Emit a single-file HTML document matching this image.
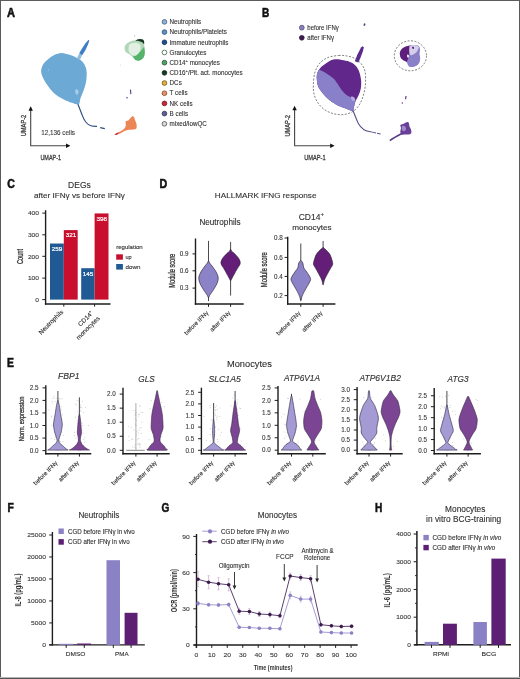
<!DOCTYPE html>
<html><head><meta charset="utf-8"><style>
html,body{margin:0;padding:0;background:#fff;}
#fig{position:relative;width:520px;height:679px;overflow:hidden;background:#fff;}
svg{position:absolute;left:0;top:0;font-family:"Liberation Sans",sans-serif;will-change:transform;filter:blur(0.25px);}
</style></head><body><div id="fig">
<svg width="520" height="679" viewBox="0 0 520 679">
<text transform="translate(7.00 16.80) scale(0.9008 1)" font-size="12.3" font-weight="bold" fill="#111" stroke="#111" stroke-width="0.55">A</text>
<text transform="translate(261.90 17.00) scale(0.8220 1)" font-size="12.3" font-weight="bold" fill="#111" stroke="#111" stroke-width="0.55">B</text>
<text transform="translate(7.15 187.60) scale(0.8558 1)" font-size="12.3" font-weight="bold" fill="#111" stroke="#111" stroke-width="0.55">C</text>
<text transform="translate(159.60 187.50) scale(0.8671 1)" font-size="12.3" font-weight="bold" fill="#111" stroke="#111" stroke-width="0.55">D</text>
<text transform="translate(7.00 366.60) scale(0.8410 1)" font-size="12.3" font-weight="bold" fill="#111" stroke="#111" stroke-width="0.55">E</text>
<text transform="translate(7.60 511.50) scale(0.8383 1)" font-size="12.3" font-weight="bold" fill="#111" stroke="#111" stroke-width="0.55">F</text>
<text transform="translate(161.50 512.00) scale(0.8151 1)" font-size="12.3" font-weight="bold" fill="#111" stroke="#111" stroke-width="0.55">G</text>
<text transform="translate(374.90 512.40) scale(0.8220 1)" font-size="12.3" font-weight="bold" fill="#111" stroke="#111" stroke-width="0.55">H</text>
<path d="M61.50,52.90 C64.07,52.87 67.10,53.98 69.60,54.80 C72.10,55.62 74.35,56.63 76.50,57.80 C78.65,58.97 80.92,60.05 82.50,61.80 C84.08,63.55 85.30,66.03 86.00,68.30 C86.70,70.57 86.75,72.88 86.70,75.40 C86.65,77.92 86.28,80.72 85.70,83.40 C85.12,86.08 84.08,89.00 83.20,91.50 C82.32,94.00 81.17,96.25 80.40,98.40 C79.63,100.55 80.02,103.67 78.60,104.40 C77.18,105.13 74.37,103.63 71.90,102.80 C69.43,101.97 66.28,100.60 63.80,99.40 C61.32,98.20 59.20,97.27 57.00,95.60 C54.80,93.93 52.70,91.92 50.60,89.40 C48.50,86.88 45.97,83.35 44.40,80.50 C42.83,77.65 41.47,74.88 41.20,72.30 C40.93,69.72 41.70,67.15 42.80,65.00 C43.90,62.85 45.90,61.07 47.80,59.40 C49.70,57.73 51.92,56.08 54.20,55.00 C56.48,53.92 58.93,52.93 61.50,52.90Z" fill="#6ca9d4"/>
<path d="M75,90 C77,88 79,90 78.5,93 C77.5,96 75,95 75,90Z" fill="#a8cce6"/>
<circle cx="48.5" cy="70" r="0.6" fill="#b0d0ea"/>
<path d="M79.2,53.2 L82,48.5 L85.5,43.2 L88.6,39.8 L89.3,40.7 L88,44.5 L85.5,50 L82,55.5 Z" fill="#3d7fc2"/>
<path d="M76.8,58.4 L79.4,53.2 L82,55.2 L79.8,60.2 Z" fill="#8dbde0"/>
<path d="M77.9,104.2 C79.5,108 81,112 82.3,115.4 C83.6,119 85.5,122.5 88.5,124.6 C90.5,126 93,126.6 97,126.4" fill="none" stroke="#2b4f7e" stroke-width="1.15"/>
<path d="M100.2,127.6 L104.8,128.6" fill="none" stroke="#2b4f7e" stroke-width="1.1"/>
<path d="M136.70,39.90 C137.57,39.62 137.93,38.75 139.00,38.80 C140.07,38.85 142.28,39.58 143.10,40.20 C143.92,40.82 143.70,41.30 143.90,42.50 C144.10,43.70 144.15,45.72 144.30,47.40 C144.45,49.08 144.90,50.97 144.80,52.60 C144.70,54.23 144.47,55.92 143.70,57.20 C142.93,58.48 141.45,59.78 140.20,60.30 C138.95,60.82 137.35,60.78 136.20,60.30 C135.05,59.82 134.37,58.37 133.30,57.40 C132.23,56.43 131.05,55.40 129.80,54.50 C128.55,53.60 126.67,53.18 125.80,52.00 C124.93,50.82 124.52,48.73 124.60,47.40 C124.68,46.07 125.43,44.95 126.30,44.00 C127.17,43.05 128.55,42.28 129.80,41.70 C131.05,41.12 132.65,40.80 133.80,40.50 C134.95,40.20 135.83,40.18 136.70,39.90Z" fill="#b2d6ba"/>
<clipPath id="cg"><path d="M136.70,39.90 C137.57,39.62 137.93,38.75 139.00,38.80 C140.07,38.85 142.28,39.58 143.10,40.20 C143.92,40.82 143.70,41.30 143.90,42.50 C144.10,43.70 144.15,45.72 144.30,47.40 C144.45,49.08 144.90,50.97 144.80,52.60 C144.70,54.23 144.47,55.92 143.70,57.20 C142.93,58.48 141.45,59.78 140.20,60.30 C138.95,60.82 137.35,60.78 136.20,60.30 C135.05,59.82 134.37,58.37 133.30,57.40 C132.23,56.43 131.05,55.40 129.80,54.50 C128.55,53.60 126.67,53.18 125.80,52.00 C124.93,50.82 124.52,48.73 124.60,47.40 C124.68,46.07 125.43,44.95 126.30,44.00 C127.17,43.05 128.55,42.28 129.80,41.70 C131.05,41.12 132.65,40.80 133.80,40.50 C134.95,40.20 135.83,40.18 136.70,39.90Z"/></clipPath>
<g clip-path="url(#cg)">
<path d="M146,44 C142,50 139,54 134,56 C132,57.5 132,60 134,62 L147,62 Z" fill="#55b46c"/>
<path d="M129,45 C132,42.5 137,42 140,44.5 C141.5,48 140,53 136,55.5 C132,56.5 128.5,53 128.5,49 Z" fill="#e2f0e4"/>
</g>
<path d="M135.5,40.6 C137,39 140.5,38.2 143,39.6 C144.2,40.6 144.4,42.4 144.1,44.6 C143.2,42.6 141.5,41.6 139.6,41.2 C138,41 136.6,41.2 135.5,40.6Z" fill="#15351f"/>
<circle cx="134.6" cy="35.8" r="0.6" fill="#9ab0a4"/>
<path d="M130.4,89.6 L130.9,94.1" stroke="#4a4a86" stroke-width="1.1"/>
<circle cx="127" cy="97.7" r="0.8" fill="#4a4a86"/>
<path d="M132.40,116.20 C132.98,116.03 133.57,116.37 134.00,117.00 C134.43,117.63 134.58,118.83 135.00,120.00 C135.42,121.17 136.28,122.58 136.50,124.00 C136.72,125.42 136.88,127.58 136.30,128.50 C135.72,129.42 134.22,129.28 133.00,129.50 C131.78,129.72 130.17,129.62 129.00,129.80 C127.83,129.98 127.17,130.17 126.00,130.60 C124.83,131.03 123.25,131.82 122.00,132.40 C120.75,132.98 119.57,133.65 118.50,134.10 C117.43,134.55 116.12,135.07 115.60,135.10 C115.08,135.13 115.00,134.72 115.40,134.30 C115.80,133.88 116.98,133.18 118.00,132.60 C119.02,132.02 120.45,131.47 121.50,130.80 C122.55,130.13 123.58,129.48 124.30,128.60 C125.02,127.72 125.57,126.73 125.80,125.50 C126.03,124.27 125.28,122.05 125.70,121.20 C126.12,120.35 127.50,120.93 128.30,120.40 C129.10,119.87 129.82,118.70 130.50,118.00 C131.18,117.30 131.82,116.37 132.40,116.20Z" fill="#ec8656"/>
<path d="M114.2,135 L116.5,133 L119,132.5 L117.5,134.4 Z" fill="#c8283a"/>
<circle cx="120.5" cy="65" r="0.4" fill="#a0b0c8"/>
<line x1="30.70" y1="145.80" x2="30.70" y2="109.90" stroke="#444" stroke-width="1.1"/>
<line x1="30.15" y1="145.80" x2="66.80" y2="145.80" stroke="#444" stroke-width="1.1"/>
<path d="M28.50,110.70 L30.70,106.30 L32.90,110.70Z" fill="#111"/>
<path d="M66.00,143.60 L70.40,145.80 L66.00,148.00Z" fill="#111"/>
<line x1="294.60" y1="145.80" x2="294.60" y2="109.40" stroke="#444" stroke-width="1.1"/>
<line x1="294.05" y1="145.80" x2="331.00" y2="145.80" stroke="#444" stroke-width="1.1"/>
<path d="M292.40,110.20 L294.60,105.80 L296.80,110.20Z" fill="#111"/>
<path d="M330.20,143.60 L334.60,145.80 L330.20,148.00Z" fill="#111"/>
<text transform="translate(40.40 159.60) scale(0.6797 1)" font-size="8.1" fill="#3a3a3a" stroke="#3a3a3a" stroke-width="0.3">UMAP-1</text>
<text transform="translate(26.00 136.30) rotate(-90) scale(0.7058 1)" font-size="8.1" fill="#3a3a3a" stroke="#3a3a3a" stroke-width="0.3">UMAP-2</text>
<text transform="translate(304.20 159.60) scale(0.7026 1)" font-size="8.1" fill="#3a3a3a" stroke="#3a3a3a" stroke-width="0.3">UMAP-1</text>
<text transform="translate(290.20 136.50) rotate(-90) scale(0.7026 1)" font-size="8.1" fill="#3a3a3a" stroke="#3a3a3a" stroke-width="0.3">UMAP-2</text>
<text transform="translate(41.20 135.40) scale(0.9743 1)" font-size="6.5" fill="#3a3a3a" stroke="#3a3a3a" stroke-width="0.12">12,136 cells</text>
<circle cx="164.45" cy="21.90" r="2.35" fill="#8eb3d6" stroke="#3a5a7a" stroke-width="0.75"/>
<text transform="translate(169.60 24.15) scale(0.9500 1)" font-size="6.6" fill="#333" stroke="#333" stroke-width="0.12">Neutrophils</text>
<circle cx="164.45" cy="32.09" r="2.35" fill="#5a90cc" stroke="#2a4a6a" stroke-width="0.75"/>
<text transform="translate(169.60 34.34) scale(0.9500 1)" font-size="6.6" fill="#333" stroke="#333" stroke-width="0.12">Neutrophils/Platelets</text>
<circle cx="164.45" cy="42.28" r="2.35" fill="#1f4f92" stroke="#0f2a50" stroke-width="0.75"/>
<text transform="translate(169.60 44.53) scale(0.9500 1)" font-size="6.6" fill="#333" stroke="#333" stroke-width="0.12">Immature neutrophils</text>
<circle cx="164.45" cy="52.47" r="2.35" fill="#ffffff" stroke="#2a5a3a" stroke-width="0.75"/>
<text transform="translate(169.60 54.72) scale(0.9500 1)" font-size="6.6" fill="#333" stroke="#333" stroke-width="0.12">Granulocytes</text>
<circle cx="164.45" cy="62.66" r="2.35" fill="#4ea466" stroke="#1f4a2a" stroke-width="0.75"/>
<text transform="translate(169.60 64.91) scale(0.9500 1)" font-size="6.6" fill="#333" stroke="#333" stroke-width="0.12">CD14<tspan font-size="4.2" dy="-2.9">+</tspan><tspan dy="2.9"> monocytes</tspan></text>
<circle cx="164.45" cy="72.85" r="2.35" fill="#173a26" stroke="#0a1f12" stroke-width="0.75"/>
<text transform="translate(169.60 75.10) scale(0.9500 1)" font-size="6.6" fill="#333" stroke="#333" stroke-width="0.12">CD16<tspan font-size="4.2" dy="-2.9">+</tspan><tspan dy="2.9">/Plt. act. monocytes</tspan></text>
<circle cx="164.45" cy="83.04" r="2.35" fill="#e0b23a" stroke="#6a4a10" stroke-width="0.75"/>
<text transform="translate(169.60 85.29) scale(0.9500 1)" font-size="6.6" fill="#333" stroke="#333" stroke-width="0.12">DCs</text>
<circle cx="164.45" cy="93.23" r="2.35" fill="#e8906a" stroke="#7a3a20" stroke-width="0.75"/>
<text transform="translate(169.60 95.48) scale(0.9500 1)" font-size="6.6" fill="#333" stroke="#333" stroke-width="0.12">T cells</text>
<circle cx="164.45" cy="103.42" r="2.35" fill="#c8283c" stroke="#6a1018" stroke-width="0.75"/>
<text transform="translate(169.60 105.67) scale(0.9500 1)" font-size="6.6" fill="#333" stroke="#333" stroke-width="0.12">NK cells</text>
<circle cx="164.45" cy="113.61" r="2.35" fill="#5f5d96" stroke="#2a2a4a" stroke-width="0.75"/>
<text transform="translate(169.60 115.86) scale(0.9500 1)" font-size="6.6" fill="#333" stroke="#333" stroke-width="0.12">B cells</text>
<circle cx="164.45" cy="123.80" r="2.35" fill="#d8d8d8" stroke="#4a4a4a" stroke-width="0.75"/>
<text transform="translate(169.60 126.05) scale(0.9500 1)" font-size="6.6" fill="#333" stroke="#333" stroke-width="0.12">mixed/lowQC</text>
<path d="M336.30,59.20 C338.42,59.20 341.22,59.77 343.70,60.30 C346.18,60.83 349.08,61.35 351.20,62.40 C353.32,63.45 355.00,64.83 356.40,66.60 C357.80,68.37 358.80,70.52 359.60,73.00 C360.40,75.48 361.02,78.85 361.20,81.50 C361.38,84.15 361.13,86.62 360.70,88.90 C360.27,91.18 359.48,93.08 358.60,95.20 C357.72,97.32 356.20,99.48 355.40,101.60 C354.60,103.72 354.25,106.32 353.80,107.90 C353.35,109.48 353.85,110.92 352.70,111.10 C351.55,111.28 349.27,109.88 346.90,109.00 C344.53,108.12 341.32,107.22 338.50,105.80 C335.68,104.38 332.48,102.43 330.00,100.50 C327.52,98.57 325.55,96.50 323.60,94.20 C321.65,91.90 319.43,89.18 318.30,86.70 C317.17,84.22 316.97,81.58 316.80,79.30 C316.63,77.02 316.68,74.93 317.30,73.00 C317.92,71.07 319.08,69.28 320.50,67.70 C321.92,66.12 324.05,64.73 325.80,63.50 C327.55,62.27 329.25,61.02 331.00,60.30 C332.75,59.58 334.18,59.20 336.30,59.20Z" fill="#62278a"/>
<clipPath id="cb"><path d="M336.30,59.20 C338.42,59.20 341.22,59.77 343.70,60.30 C346.18,60.83 349.08,61.35 351.20,62.40 C353.32,63.45 355.00,64.83 356.40,66.60 C357.80,68.37 358.80,70.52 359.60,73.00 C360.40,75.48 361.02,78.85 361.20,81.50 C361.38,84.15 361.13,86.62 360.70,88.90 C360.27,91.18 359.48,93.08 358.60,95.20 C357.72,97.32 356.20,99.48 355.40,101.60 C354.60,103.72 354.25,106.32 353.80,107.90 C353.35,109.48 353.85,110.92 352.70,111.10 C351.55,111.28 349.27,109.88 346.90,109.00 C344.53,108.12 341.32,107.22 338.50,105.80 C335.68,104.38 332.48,102.43 330.00,100.50 C327.52,98.57 325.55,96.50 323.60,94.20 C321.65,91.90 319.43,89.18 318.30,86.70 C317.17,84.22 316.97,81.58 316.80,79.30 C316.63,77.02 316.68,74.93 317.30,73.00 C317.92,71.07 319.08,69.28 320.50,67.70 C321.92,66.12 324.05,64.73 325.80,63.50 C327.55,62.27 329.25,61.02 331.00,60.30 C332.75,59.58 334.18,59.20 336.30,59.20Z"/></clipPath>
<path clip-path="url(#cb)" d="M312.00,68.00 C313.23,68.30 317.10,68.97 319.40,69.80 C321.70,70.63 323.50,71.58 325.80,73.00 C328.10,74.42 331.27,76.53 333.20,78.30 C335.13,80.07 336.00,81.67 337.40,83.60 C338.80,85.53 340.02,87.97 341.60,89.90 C343.18,91.83 345.30,93.97 346.90,95.20 C348.50,96.43 349.97,96.60 351.20,97.30 C352.43,98.00 351.83,98.78 354.30,99.40 C356.77,100.02 364.05,100.73 366.00,101.00 L366,118 L305,118 Z" fill="#8880c8"/>
<path clip-path="url(#cb)" d="M351,96.5 C353,96 355.5,97.5 355,100 C353.5,102 351,101 351,96.5Z" fill="#b4aae0"/>
<path d="M354.8,61.2 L357.2,55 L361,47.6 L362.6,46.2 L363.9,47.2 L362.8,51.5 L360.6,57.5 L358.4,62.4 Z" fill="#5c2a8a"/>
<path d="M352.9,110.5 C355,115 356.5,120 358.5,123.8 C361,128 365,131 369.2,131.5 C372,132 374,132.5 376,133" fill="none" stroke="#5a4a8a" stroke-width="1.1"/>
<path d="M377,133.3 L380.5,134" stroke="#5a4a8a" stroke-width="1.05"/>
<path d="M338.50,55.50 C341.67,55.25 344.25,55.50 347.00,56.00 C349.75,56.50 352.67,57.25 355.00,58.50 C357.33,59.75 359.40,61.58 361.00,63.50 C362.60,65.42 363.83,67.58 364.60,70.00 C365.37,72.42 365.53,75.00 365.60,78.00 C365.67,81.00 365.52,84.67 365.00,88.00 C364.48,91.33 363.58,95.00 362.50,98.00 C361.42,101.00 360.25,103.67 358.50,106.00 C356.75,108.33 354.58,110.57 352.00,112.00 C349.42,113.43 346.00,114.30 343.00,114.60 C340.00,114.90 337.00,114.57 334.00,113.80 C331.00,113.03 327.67,111.80 325.00,110.00 C322.33,108.20 319.83,105.67 318.00,103.00 C316.17,100.33 314.77,97.17 314.00,94.00 C313.23,90.83 313.23,87.67 313.40,84.00 C313.57,80.33 313.90,75.50 315.00,72.00 C316.10,68.50 317.83,65.42 320.00,63.00 C322.17,60.58 324.92,58.75 328.00,57.50 C331.08,56.25 335.33,55.75 338.50,55.50Z" fill="none" stroke="#555" stroke-width="0.75" stroke-dasharray="2 1.5"/>
<ellipse cx="410.4" cy="55.8" rx="16.1" ry="15" fill="none" stroke="#555" stroke-width="0.75" stroke-dasharray="2 1.5"/>
<path d="M403.00,48.00 C404.17,47.03 405.67,46.62 407.00,46.20 C408.33,45.78 409.67,45.70 411.00,45.50 C412.33,45.30 413.75,44.95 415.00,45.00 C416.25,45.05 417.67,45.13 418.50,45.80 C419.33,46.47 419.82,47.63 420.00,49.00 C420.18,50.37 419.57,52.33 419.60,54.00 C419.63,55.67 420.38,57.33 420.20,59.00 C420.02,60.67 419.53,62.70 418.50,64.00 C417.47,65.30 415.58,66.38 414.00,66.80 C412.42,67.22 410.25,67.30 409.00,66.50 C407.75,65.70 407.50,63.08 406.50,62.00 C405.50,60.92 404.00,60.83 403.00,60.00 C402.00,59.17 401.00,58.33 400.50,57.00 C400.00,55.67 399.58,53.50 400.00,52.00 C400.42,50.50 401.83,48.97 403.00,48.00Z" fill="#8a80c8"/>
<clipPath id="cc"><path d="M403.00,48.00 C404.17,47.03 405.67,46.62 407.00,46.20 C408.33,45.78 409.67,45.70 411.00,45.50 C412.33,45.30 413.75,44.95 415.00,45.00 C416.25,45.05 417.67,45.13 418.50,45.80 C419.33,46.47 419.82,47.63 420.00,49.00 C420.18,50.37 419.57,52.33 419.60,54.00 C419.63,55.67 420.38,57.33 420.20,59.00 C420.02,60.67 419.53,62.70 418.50,64.00 C417.47,65.30 415.58,66.38 414.00,66.80 C412.42,67.22 410.25,67.30 409.00,66.50 C407.75,65.70 407.50,63.08 406.50,62.00 C405.50,60.92 404.00,60.83 403.00,60.00 C402.00,59.17 401.00,58.33 400.50,57.00 C400.00,55.67 399.58,53.50 400.00,52.00 C400.42,50.50 401.83,48.97 403.00,48.00Z"/></clipPath>
<g clip-path="url(#cc)">
<path d="M398,44 L411,44 C411.5,48 410,52 409,56 C408,59 407.5,61 406,63 L398,63Z" fill="#5e1f7c"/>
<path d="M409.5,46 C412,44.5 417,44.5 419,47 C418,51 416,53.5 412,55 C410,56 408.5,54 409.5,46Z" fill="#d6cfea"/>
<path d="M412,47 C413,46.5 414.5,47 414,48.5 C413.3,49.5 412,49 412,47Z" fill="#5e1f7c"/>
<path d="M407,55 C408,54 409.5,55 409,57 C408,58.5 406.5,57 407,55Z" fill="#ece8f6"/>
</g>
<path d="M406,96 L405.6,99.2" stroke="#5e2f7c" stroke-width="1.1"/>
<circle cx="402.3" cy="103" r="0.7" fill="#5e2f7c"/>
<path d="M364.2,23.2 C365.5,23 365.8,24.6 365,25.6 C364.2,26.4 363.3,25.5 363.6,24.4Z" fill="#5e3a8a"/>
<path d="M407.50,122.10 C408.50,122.02 408.67,122.77 409.00,123.50 C409.33,124.23 409.17,125.50 409.50,126.50 C409.83,127.50 410.70,128.42 411.00,129.50 C411.30,130.58 411.63,132.18 411.30,133.00 C410.97,133.82 410.05,134.13 409.00,134.40 C407.95,134.67 406.25,134.60 405.00,134.60 C403.75,134.60 402.28,134.92 401.50,134.40 C400.72,133.88 400.38,132.57 400.30,131.50 C400.22,130.43 401.00,129.08 401.00,128.00 C401.00,126.92 399.97,125.67 400.30,125.00 C400.63,124.33 401.80,124.48 403.00,124.00 C404.20,123.52 406.50,122.18 407.50,122.10Z" fill="#6a3f98"/>
<path d="M402,126 C404,125 406.5,126.5 406,129.5 C405,132 402.5,131.5 401.8,129.5Z" fill="#9a8ccc"/>
<path d="M402.5,133.2 C398,135.5 394,137.5 389.8,140.6" fill="none" stroke="#5a3a88" stroke-width="1.5"/>
<circle cx="301.8" cy="27.7" r="2.4" fill="#8a80c0" stroke="#4a3a6a" stroke-width="0.7"/>
<circle cx="301.8" cy="37.8" r="2.4" fill="#3e1a50" stroke="#2a0a3a" stroke-width="0.7"/>
<text transform="translate(307.30 29.80) scale(0.9571 1)" font-size="6.3" fill="#333" stroke="#333" stroke-width="0.12">before IFN&#947;</text>
<text transform="translate(307.30 39.90) scale(0.9654 1)" font-size="6.3" fill="#333" stroke="#333" stroke-width="0.12">after IFN&#947;</text>
<text transform="translate(68.10 187.60) scale(1.0255 1)" font-size="8.3" fill="#303030" stroke="#303030" stroke-width="0.12">DEGs</text>
<text transform="translate(33.90 197.50) scale(1.0457 1)" font-size="7.8" fill="#303030" stroke="#303030" stroke-width="0.12">after IFN&#947; vs before IFN&#947;</text>
<line x1="45.60" y1="210.20" x2="45.60" y2="304.70" stroke="#1e1e1e" stroke-width="1.4"/>
<line x1="44.90" y1="304.00" x2="110.50" y2="304.00" stroke="#1e1e1e" stroke-width="1.4"/>
<line x1="42.30" y1="213.10" x2="45.60" y2="213.10" stroke="#1e1e1e" stroke-width="1.0"/>
<text transform="translate(39.00 215.30) scale(1.0700 1)" font-size="6.2" text-anchor="end" fill="#3a3a3a" stroke="#3a3a3a" stroke-width="0.12">400</text>
<line x1="42.30" y1="234.80" x2="45.60" y2="234.80" stroke="#1e1e1e" stroke-width="1.0"/>
<text transform="translate(39.00 237.00) scale(1.0700 1)" font-size="6.2" text-anchor="end" fill="#3a3a3a" stroke="#3a3a3a" stroke-width="0.12">300</text>
<line x1="42.30" y1="256.30" x2="45.60" y2="256.30" stroke="#1e1e1e" stroke-width="1.0"/>
<text transform="translate(39.00 258.50) scale(1.0700 1)" font-size="6.2" text-anchor="end" fill="#3a3a3a" stroke="#3a3a3a" stroke-width="0.12">200</text>
<line x1="42.30" y1="278.10" x2="45.60" y2="278.10" stroke="#1e1e1e" stroke-width="1.0"/>
<text transform="translate(39.00 280.30) scale(1.0700 1)" font-size="6.2" text-anchor="end" fill="#3a3a3a" stroke="#3a3a3a" stroke-width="0.12">100</text>
<line x1="42.30" y1="299.60" x2="45.60" y2="299.60" stroke="#1e1e1e" stroke-width="1.0"/>
<text transform="translate(39.00 301.80) scale(1.0700 1)" font-size="6.2" text-anchor="end" fill="#3a3a3a" stroke="#3a3a3a" stroke-width="0.12">0</text>
<line x1="63.80" y1="304.00" x2="63.80" y2="306.60" stroke="#1e1e1e" stroke-width="1.0"/>
<line x1="94.60" y1="304.00" x2="94.60" y2="306.60" stroke="#1e1e1e" stroke-width="1.0"/>
<rect x="50.00" y="243.53" width="13.80" height="56.07" fill="#1f5a94"/>
<text transform="translate(57.10 250.83) scale(1.0200 1)" font-size="6.2" text-anchor="middle" fill="#fff" stroke="#fff" stroke-width="0.2">259</text>
<rect x="63.80" y="230.10" width="13.90" height="69.50" fill="#c8102e"/>
<text transform="translate(70.95 237.40) scale(1.0200 1)" font-size="6.2" text-anchor="middle" fill="#fff" stroke="#fff" stroke-width="0.2">321</text>
<rect x="81.20" y="268.21" width="13.40" height="31.39" fill="#1f5a94"/>
<text transform="translate(88.10 275.51) scale(1.0200 1)" font-size="6.2" text-anchor="middle" fill="#fff" stroke="#fff" stroke-width="0.2">145</text>
<rect x="94.60" y="213.43" width="13.90" height="86.17" fill="#c8102e"/>
<text transform="translate(101.75 220.73) scale(1.0200 1)" font-size="6.2" text-anchor="middle" fill="#fff" stroke="#fff" stroke-width="0.2">398</text>
<text transform="translate(22.50 264.00) rotate(-90) scale(0.6247 1)" font-size="9.0" fill="#303030" stroke="#303030" stroke-width="0.3">Count</text>
<text transform="translate(116.20 248.60) scale(1.0442 1)" font-size="5.8" fill="#303030" stroke="#303030" stroke-width="0.12">regulation</text>
<rect x="116.20" y="254.30" width="6.70" height="5.40" fill="#c8102e"/>
<rect x="116.20" y="264.00" width="6.70" height="5.60" fill="#1f5a94"/>
<text transform="translate(125.50 258.80) scale(0.9613 1)" font-size="5.8" fill="#303030" stroke="#303030" stroke-width="0.12">up</text>
<text transform="translate(125.50 268.60) scale(1.0744 1)" font-size="5.8" fill="#303030" stroke="#303030" stroke-width="0.12">down</text>
<text transform="translate(63.70 312.40) rotate(-45)" font-size="6.3" text-anchor="end" fill="#303030" stroke="#303030" stroke-width="0.12">Neutrophils</text>
<text transform="translate(93.60 313.60) rotate(-45)" font-size="6.3" text-anchor="end" fill="#303030" stroke="#303030" stroke-width="0.12">CD14<tspan font-size="4" dy="-2.6">+</tspan></text>
<text transform="translate(100.20 318.70) rotate(-45)" font-size="6.3" text-anchor="end" fill="#303030" stroke="#303030" stroke-width="0.12">monocytes</text>
<text transform="translate(214.80 197.90) scale(1.0105 1)" font-size="8.1" fill="#303030" stroke="#303030" stroke-width="0.12">HALLMARK IFNG response</text>
<text transform="translate(199.40 224.90) scale(0.9838 1)" font-size="8.3" fill="#303030" stroke="#303030" stroke-width="0.12">Neutrophils</text>
<text transform="translate(298.70 219.60) scale(0.9900 1)" font-size="8.6" fill="#303030" stroke="#303030" stroke-width="0.12">CD14<tspan font-size="6.2" dy="-3.6">+</tspan></text>
<text transform="translate(292.20 229.60) scale(1.0315 1)" font-size="7.9" fill="#303030" stroke="#303030" stroke-width="0.12">monocytes</text>
<line x1="195.50" y1="238.50" x2="195.50" y2="304.70" stroke="#1e1e1e" stroke-width="1.4"/>
<line x1="194.80" y1="304.00" x2="243.70" y2="304.00" stroke="#1e1e1e" stroke-width="1.4"/>
<line x1="192.50" y1="253.90" x2="195.50" y2="253.90" stroke="#1e1e1e" stroke-width="1.0"/>
<text transform="translate(188.50 256.10)" font-size="6.3" text-anchor="end" fill="#3a3a3a" stroke="#3a3a3a" stroke-width="0.12">0.9</text>
<line x1="192.50" y1="270.80" x2="195.50" y2="270.80" stroke="#1e1e1e" stroke-width="1.0"/>
<text transform="translate(188.50 273.00)" font-size="6.3" text-anchor="end" fill="#3a3a3a" stroke="#3a3a3a" stroke-width="0.12">0.6</text>
<line x1="192.50" y1="288.10" x2="195.50" y2="288.10" stroke="#1e1e1e" stroke-width="1.0"/>
<text transform="translate(188.50 290.30)" font-size="6.3" text-anchor="end" fill="#3a3a3a" stroke="#3a3a3a" stroke-width="0.12">0.3</text>
<line x1="208.50" y1="304.00" x2="208.50" y2="306.80" stroke="#1e1e1e" stroke-width="1.0"/>
<line x1="230.60" y1="304.00" x2="230.60" y2="306.80" stroke="#1e1e1e" stroke-width="1.0"/>
<text transform="translate(174.60 287.70) rotate(-90) scale(0.6743 1)" font-size="8.4" fill="#303030" stroke="#303030" stroke-width="0.3">Module score</text>
<line x1="208.50" y1="240.90" x2="208.50" y2="264.00" stroke="#3a3340" stroke-width="0.9"/>
<line x1="208.50" y1="294.00" x2="208.50" y2="301.10" stroke="#3a3340" stroke-width="0.9"/>
<path d="M208.24,261.00 C208.08,261.23 207.83,262.42 207.45,263.00 C207.07,263.58 205.65,265.07 204.95,266.00 C204.25,266.93 202.09,269.95 201.45,271.00 C200.81,272.05 199.76,274.17 199.45,275.00 C199.13,275.83 198.78,277.40 198.75,278.10 C198.72,278.80 198.97,280.30 199.15,281.00 C199.33,281.70 199.71,283.04 200.25,284.10 C200.79,285.16 202.94,288.82 203.75,290.10 C204.56,291.38 206.66,294.24 207.19,295.10 C207.71,295.96 208.05,297.22 208.24,297.50 C208.42,297.78 208.58,297.78 208.76,297.50 C208.95,297.22 209.29,295.96 209.81,295.10 C210.34,294.24 212.44,291.38 213.25,290.10 C214.06,288.82 216.21,285.16 216.75,284.10 C217.29,283.04 217.67,281.70 217.85,281.00 C218.03,280.30 218.28,278.80 218.25,278.10 C218.22,277.40 217.87,275.83 217.55,275.00 C217.24,274.17 216.19,272.05 215.55,271.00 C214.91,269.95 212.75,266.93 212.05,266.00 C211.35,265.07 209.93,263.58 209.55,263.00 C209.17,262.42 208.92,261.23 208.76,261.00 C208.61,260.77 208.39,260.77 208.24,261.00Z" fill="#8c82c8" stroke="#2a2233" stroke-width="0.65" stroke-linejoin="round"/>
<line x1="230.60" y1="242.00" x2="230.60" y2="252.00" stroke="#3a3340" stroke-width="0.9"/>
<line x1="230.60" y1="276.00" x2="230.60" y2="295.60" stroke="#3a3340" stroke-width="0.9"/>
<path d="M230.34,249.50 C230.20,249.68 230.07,250.59 229.72,251.00 C229.38,251.41 228.07,252.30 227.35,253.00 C226.63,253.70 224.21,256.18 223.55,257.00 C222.88,257.82 221.95,259.35 221.65,260.00 C221.35,260.65 220.96,262.02 220.95,262.60 C220.94,263.18 221.25,264.37 221.55,265.00 C221.85,265.63 222.99,267.07 223.55,268.00 C224.11,268.93 225.71,271.83 226.35,273.00 C226.99,274.17 228.60,277.12 229.07,278.00 C229.53,278.88 230.13,280.21 230.34,280.50 C230.55,280.79 230.65,280.79 230.86,280.50 C231.07,280.21 231.67,278.88 232.13,278.00 C232.60,277.12 234.21,274.17 234.85,273.00 C235.49,271.83 237.09,268.93 237.65,268.00 C238.21,267.07 239.35,265.63 239.65,265.00 C239.95,264.37 240.26,263.18 240.25,262.60 C240.24,262.02 239.85,260.65 239.55,260.00 C239.25,259.35 238.31,257.82 237.65,257.00 C236.99,256.18 234.57,253.70 233.85,253.00 C233.13,252.30 231.82,251.41 231.47,251.00 C231.13,250.59 231.00,249.68 230.86,249.50 C230.73,249.32 230.47,249.32 230.34,249.50Z" fill="#641e78" stroke="#2a2233" stroke-width="0.65" stroke-linejoin="round"/>
<text transform="translate(208.80 313.30) rotate(-45)" font-size="6.0" text-anchor="end" fill="#303030" stroke="#303030" stroke-width="0.12">before IFN&#947;</text>
<text transform="translate(230.90 313.30) rotate(-45)" font-size="6.0" text-anchor="end" fill="#303030" stroke="#303030" stroke-width="0.12">after IFN&#947;</text>
<line x1="287.70" y1="236.80" x2="287.70" y2="304.70" stroke="#1e1e1e" stroke-width="1.4"/>
<line x1="287.00" y1="304.00" x2="335.40" y2="304.00" stroke="#1e1e1e" stroke-width="1.4"/>
<line x1="284.60" y1="238.00" x2="287.70" y2="238.00" stroke="#1e1e1e" stroke-width="1.0"/>
<text transform="translate(282.80 240.20)" font-size="6.3" text-anchor="end" fill="#3a3a3a" stroke="#3a3a3a" stroke-width="0.12">0.8</text>
<line x1="284.60" y1="257.40" x2="287.70" y2="257.40" stroke="#1e1e1e" stroke-width="1.0"/>
<text transform="translate(282.80 259.60)" font-size="6.3" text-anchor="end" fill="#3a3a3a" stroke="#3a3a3a" stroke-width="0.12">0.6</text>
<line x1="284.60" y1="276.40" x2="287.70" y2="276.40" stroke="#1e1e1e" stroke-width="1.0"/>
<text transform="translate(282.80 278.60)" font-size="6.3" text-anchor="end" fill="#3a3a3a" stroke="#3a3a3a" stroke-width="0.12">0.4</text>
<line x1="284.60" y1="295.60" x2="287.70" y2="295.60" stroke="#1e1e1e" stroke-width="1.0"/>
<text transform="translate(282.80 297.80)" font-size="6.3" text-anchor="end" fill="#3a3a3a" stroke="#3a3a3a" stroke-width="0.12">0.2</text>
<line x1="300.80" y1="304.00" x2="300.80" y2="306.80" stroke="#1e1e1e" stroke-width="1.0"/>
<line x1="323.10" y1="304.00" x2="323.10" y2="306.80" stroke="#1e1e1e" stroke-width="1.0"/>
<text transform="translate(266.90 287.20) rotate(-90) scale(0.6941 1)" font-size="8.4" fill="#303030" stroke="#303030" stroke-width="0.3">Module score</text>
<line x1="300.80" y1="243.50" x2="300.80" y2="262.00" stroke="#3a3340" stroke-width="0.9"/>
<line x1="300.80" y1="296.00" x2="300.80" y2="301.10" stroke="#3a3340" stroke-width="0.9"/>
<path d="M300.54,260.50 C300.38,260.62 299.96,261.21 299.75,261.50 C299.54,261.79 298.98,262.24 298.75,263.00 C298.52,263.76 298.12,267.07 297.75,268.00 C297.38,268.93 296.19,270.07 295.55,271.00 C294.91,271.93 292.79,275.00 292.25,276.00 C291.71,277.00 290.86,278.66 290.95,279.60 C291.04,280.55 292.40,282.88 293.05,284.10 C293.70,285.33 295.80,288.70 296.55,290.10 C297.30,291.50 299.02,294.95 299.49,296.10 C299.95,297.25 300.35,299.55 300.54,300.00 C300.72,300.45 300.88,300.45 301.06,300.00 C301.25,299.55 301.65,297.25 302.11,296.10 C302.58,294.95 304.30,291.50 305.05,290.10 C305.80,288.70 307.90,285.33 308.55,284.10 C309.20,282.88 310.56,280.55 310.65,279.60 C310.74,278.66 309.89,277.00 309.35,276.00 C308.81,275.00 306.69,271.93 306.05,271.00 C305.41,270.07 304.22,268.93 303.85,268.00 C303.48,267.07 303.08,263.76 302.85,263.00 C302.62,262.24 302.06,261.79 301.85,261.50 C301.64,261.21 301.22,260.62 301.06,260.50 C300.91,260.38 300.69,260.38 300.54,260.50Z" fill="#8c82c8" stroke="#2a2233" stroke-width="0.65" stroke-linejoin="round"/>
<line x1="323.10" y1="241.00" x2="323.10" y2="250.00" stroke="#3a3340" stroke-width="0.9"/>
<path d="M322.84,247.50 C322.68,247.62 322.38,248.21 322.05,248.50 C321.72,248.79 320.69,249.36 320.05,250.00 C319.41,250.64 317.16,253.07 316.55,254.00 C315.94,254.93 315.21,256.83 314.85,258.00 C314.49,259.17 313.31,262.72 313.45,264.00 C313.59,265.28 315.36,267.72 316.05,269.00 C316.74,270.28 318.68,273.72 319.35,275.00 C320.02,276.28 321.38,278.88 321.79,280.00 C322.19,281.12 322.65,284.06 322.84,284.60 C323.02,285.14 323.18,285.14 323.36,284.60 C323.55,284.06 324.01,281.12 324.41,280.00 C324.82,278.88 326.18,276.28 326.85,275.00 C327.52,273.72 329.46,270.28 330.15,269.00 C330.84,267.72 332.61,265.28 332.75,264.00 C332.89,262.72 331.71,259.17 331.35,258.00 C330.99,256.83 330.26,254.93 329.65,254.00 C329.04,253.07 326.79,250.64 326.15,250.00 C325.51,249.36 324.48,248.79 324.15,248.50 C323.82,248.21 323.52,247.62 323.36,247.50 C323.21,247.38 322.99,247.38 322.84,247.50Z" fill="#641e78" stroke="#2a2233" stroke-width="0.65" stroke-linejoin="round"/>
<text transform="translate(301.00 313.70) rotate(-45)" font-size="6.0" text-anchor="end" fill="#303030" stroke="#303030" stroke-width="0.12">before IFN&#947;</text>
<text transform="translate(323.00 313.70) rotate(-45)" font-size="6.0" text-anchor="end" fill="#303030" stroke="#303030" stroke-width="0.12">after IFN&#947;</text>
<text transform="translate(226.90 366.50) scale(0.9797 1)" font-size="9.5" fill="#303030" stroke="#303030" stroke-width="0.12">Monocytes</text>
<text transform="translate(24.30 441.20) rotate(-90) scale(0.7297 1)" font-size="7.8" fill="#303030" stroke="#303030" stroke-width="0.3">Norm. expression</text>
<line x1="45.80" y1="385.20" x2="45.80" y2="454.40" stroke="#1e1e1e" stroke-width="1.4"/>
<line x1="45.10" y1="453.70" x2="91.30" y2="453.70" stroke="#1e1e1e" stroke-width="1.4"/>
<line x1="42.50" y1="450.60" x2="45.80" y2="450.60" stroke="#1e1e1e" stroke-width="1.0"/>
<text transform="translate(38.60 452.80)" font-size="6.3" text-anchor="end" fill="#3a3a3a" stroke="#3a3a3a" stroke-width="0.12">0.0</text>
<line x1="42.50" y1="438.05" x2="45.80" y2="438.05" stroke="#1e1e1e" stroke-width="1.0"/>
<text transform="translate(38.60 440.25)" font-size="6.3" text-anchor="end" fill="#3a3a3a" stroke="#3a3a3a" stroke-width="0.12">0.5</text>
<line x1="42.50" y1="425.50" x2="45.80" y2="425.50" stroke="#1e1e1e" stroke-width="1.0"/>
<text transform="translate(38.60 427.70)" font-size="6.3" text-anchor="end" fill="#3a3a3a" stroke="#3a3a3a" stroke-width="0.12">1.0</text>
<line x1="42.50" y1="412.95" x2="45.80" y2="412.95" stroke="#1e1e1e" stroke-width="1.0"/>
<text transform="translate(38.60 415.15)" font-size="6.3" text-anchor="end" fill="#3a3a3a" stroke="#3a3a3a" stroke-width="0.12">1.5</text>
<line x1="42.50" y1="400.40" x2="45.80" y2="400.40" stroke="#1e1e1e" stroke-width="1.0"/>
<text transform="translate(38.60 402.60)" font-size="6.3" text-anchor="end" fill="#3a3a3a" stroke="#3a3a3a" stroke-width="0.12">2.0</text>
<line x1="42.50" y1="387.85" x2="45.80" y2="387.85" stroke="#1e1e1e" stroke-width="1.0"/>
<text transform="translate(38.60 390.05)" font-size="6.3" text-anchor="end" fill="#3a3a3a" stroke="#3a3a3a" stroke-width="0.12">2.5</text>
<line x1="57.90" y1="453.70" x2="57.90" y2="456.60" stroke="#1e1e1e" stroke-width="1.0"/>
<line x1="79.40" y1="453.70" x2="79.40" y2="456.60" stroke="#1e1e1e" stroke-width="1.0"/>
<text transform="translate(58.00 379.30)" font-size="8.6" font-style="italic" fill="#303030" stroke="#303030" stroke-width="0.12">FBP1</text>
<text transform="translate(58.00 463.40) rotate(-45)" font-size="6.0" text-anchor="end" fill="#303030" stroke="#303030" stroke-width="0.12">before IFN&#947;</text>
<text transform="translate(79.50 463.40) rotate(-45)" font-size="6.0" text-anchor="end" fill="#303030" stroke="#303030" stroke-width="0.12">after IFN&#947;</text>
<line x1="123.00" y1="387.70" x2="123.00" y2="454.40" stroke="#1e1e1e" stroke-width="1.4"/>
<line x1="122.30" y1="453.70" x2="169.70" y2="453.70" stroke="#1e1e1e" stroke-width="1.4"/>
<line x1="119.70" y1="450.30" x2="123.00" y2="450.30" stroke="#1e1e1e" stroke-width="1.0"/>
<text transform="translate(115.80 452.50)" font-size="6.3" text-anchor="end" fill="#3a3a3a" stroke="#3a3a3a" stroke-width="0.12">0.0</text>
<line x1="119.70" y1="436.25" x2="123.00" y2="436.25" stroke="#1e1e1e" stroke-width="1.0"/>
<text transform="translate(115.80 438.45)" font-size="6.3" text-anchor="end" fill="#3a3a3a" stroke="#3a3a3a" stroke-width="0.12">0.5</text>
<line x1="119.70" y1="422.20" x2="123.00" y2="422.20" stroke="#1e1e1e" stroke-width="1.0"/>
<text transform="translate(115.80 424.40)" font-size="6.3" text-anchor="end" fill="#3a3a3a" stroke="#3a3a3a" stroke-width="0.12">1.0</text>
<line x1="119.70" y1="408.15" x2="123.00" y2="408.15" stroke="#1e1e1e" stroke-width="1.0"/>
<text transform="translate(115.80 410.35)" font-size="6.3" text-anchor="end" fill="#3a3a3a" stroke="#3a3a3a" stroke-width="0.12">1.5</text>
<line x1="119.70" y1="394.10" x2="123.00" y2="394.10" stroke="#1e1e1e" stroke-width="1.0"/>
<text transform="translate(115.80 396.30)" font-size="6.3" text-anchor="end" fill="#3a3a3a" stroke="#3a3a3a" stroke-width="0.12">2.0</text>
<line x1="135.90" y1="453.70" x2="135.90" y2="456.60" stroke="#1e1e1e" stroke-width="1.0"/>
<line x1="157.10" y1="453.70" x2="157.10" y2="456.60" stroke="#1e1e1e" stroke-width="1.0"/>
<text transform="translate(138.30 382.40) scale(0.9530 1)" font-size="8.6" font-style="italic" fill="#303030" stroke="#303030" stroke-width="0.12">GLS</text>
<text transform="translate(136.00 463.40) rotate(-45)" font-size="6.0" text-anchor="end" fill="#303030" stroke="#303030" stroke-width="0.12">before IFN&#947;</text>
<text transform="translate(157.20 463.40) rotate(-45)" font-size="6.0" text-anchor="end" fill="#303030" stroke="#303030" stroke-width="0.12">after IFN&#947;</text>
<line x1="201.40" y1="387.70" x2="201.40" y2="454.40" stroke="#1e1e1e" stroke-width="1.4"/>
<line x1="200.70" y1="453.70" x2="247.00" y2="453.70" stroke="#1e1e1e" stroke-width="1.4"/>
<line x1="198.10" y1="450.30" x2="201.40" y2="450.30" stroke="#1e1e1e" stroke-width="1.0"/>
<text transform="translate(194.20 452.50)" font-size="6.3" text-anchor="end" fill="#3a3a3a" stroke="#3a3a3a" stroke-width="0.12">0.0</text>
<line x1="198.10" y1="438.70" x2="201.40" y2="438.70" stroke="#1e1e1e" stroke-width="1.0"/>
<text transform="translate(194.20 440.90)" font-size="6.3" text-anchor="end" fill="#3a3a3a" stroke="#3a3a3a" stroke-width="0.12">0.5</text>
<line x1="198.10" y1="427.10" x2="201.40" y2="427.10" stroke="#1e1e1e" stroke-width="1.0"/>
<text transform="translate(194.20 429.30)" font-size="6.3" text-anchor="end" fill="#3a3a3a" stroke="#3a3a3a" stroke-width="0.12">1.0</text>
<line x1="198.10" y1="415.50" x2="201.40" y2="415.50" stroke="#1e1e1e" stroke-width="1.0"/>
<text transform="translate(194.20 417.70)" font-size="6.3" text-anchor="end" fill="#3a3a3a" stroke="#3a3a3a" stroke-width="0.12">1.5</text>
<line x1="198.10" y1="403.90" x2="201.40" y2="403.90" stroke="#1e1e1e" stroke-width="1.0"/>
<text transform="translate(194.20 406.10)" font-size="6.3" text-anchor="end" fill="#3a3a3a" stroke="#3a3a3a" stroke-width="0.12">2.0</text>
<line x1="198.10" y1="392.30" x2="201.40" y2="392.30" stroke="#1e1e1e" stroke-width="1.0"/>
<text transform="translate(194.20 394.50)" font-size="6.3" text-anchor="end" fill="#3a3a3a" stroke="#3a3a3a" stroke-width="0.12">2.5</text>
<line x1="213.60" y1="453.70" x2="213.60" y2="456.60" stroke="#1e1e1e" stroke-width="1.0"/>
<line x1="235.10" y1="453.70" x2="235.10" y2="456.60" stroke="#1e1e1e" stroke-width="1.0"/>
<text transform="translate(208.40 382.40) scale(1.0140 1)" font-size="8.6" font-style="italic" fill="#303030" stroke="#303030" stroke-width="0.12">SLC1A5</text>
<text transform="translate(213.70 463.40) rotate(-45)" font-size="6.0" text-anchor="end" fill="#303030" stroke="#303030" stroke-width="0.12">before IFN&#947;</text>
<text transform="translate(235.20 463.40) rotate(-45)" font-size="6.0" text-anchor="end" fill="#303030" stroke="#303030" stroke-width="0.12">after IFN&#947;</text>
<line x1="278.00" y1="386.10" x2="278.00" y2="454.40" stroke="#1e1e1e" stroke-width="1.4"/>
<line x1="277.30" y1="453.70" x2="325.80" y2="453.70" stroke="#1e1e1e" stroke-width="1.4"/>
<line x1="274.70" y1="450.20" x2="278.00" y2="450.20" stroke="#1e1e1e" stroke-width="1.0"/>
<text transform="translate(270.80 452.40)" font-size="6.3" text-anchor="end" fill="#3a3a3a" stroke="#3a3a3a" stroke-width="0.12">0.0</text>
<line x1="274.70" y1="437.75" x2="278.00" y2="437.75" stroke="#1e1e1e" stroke-width="1.0"/>
<text transform="translate(270.80 439.95)" font-size="6.3" text-anchor="end" fill="#3a3a3a" stroke="#3a3a3a" stroke-width="0.12">0.5</text>
<line x1="274.70" y1="425.30" x2="278.00" y2="425.30" stroke="#1e1e1e" stroke-width="1.0"/>
<text transform="translate(270.80 427.50)" font-size="6.3" text-anchor="end" fill="#3a3a3a" stroke="#3a3a3a" stroke-width="0.12">1.0</text>
<line x1="274.70" y1="412.85" x2="278.00" y2="412.85" stroke="#1e1e1e" stroke-width="1.0"/>
<text transform="translate(270.80 415.05)" font-size="6.3" text-anchor="end" fill="#3a3a3a" stroke="#3a3a3a" stroke-width="0.12">1.5</text>
<line x1="274.70" y1="400.40" x2="278.00" y2="400.40" stroke="#1e1e1e" stroke-width="1.0"/>
<text transform="translate(270.80 402.60)" font-size="6.3" text-anchor="end" fill="#3a3a3a" stroke="#3a3a3a" stroke-width="0.12">2.0</text>
<line x1="274.70" y1="387.95" x2="278.00" y2="387.95" stroke="#1e1e1e" stroke-width="1.0"/>
<text transform="translate(270.80 390.15)" font-size="6.3" text-anchor="end" fill="#3a3a3a" stroke="#3a3a3a" stroke-width="0.12">2.5</text>
<line x1="291.50" y1="453.70" x2="291.50" y2="456.60" stroke="#1e1e1e" stroke-width="1.0"/>
<line x1="312.80" y1="453.70" x2="312.80" y2="456.60" stroke="#1e1e1e" stroke-width="1.0"/>
<text transform="translate(284.12 381.00) scale(0.9666 1)" font-size="8.6" font-style="italic" fill="#303030" stroke="#303030" stroke-width="0.12">ATP6V1A</text>
<text transform="translate(291.60 463.40) rotate(-45)" font-size="6.0" text-anchor="end" fill="#303030" stroke="#303030" stroke-width="0.12">before IFN&#947;</text>
<text transform="translate(312.90 463.40) rotate(-45)" font-size="6.0" text-anchor="end" fill="#303030" stroke="#303030" stroke-width="0.12">after IFN&#947;</text>
<line x1="357.10" y1="387.00" x2="357.10" y2="454.40" stroke="#1e1e1e" stroke-width="1.4"/>
<line x1="356.40" y1="453.70" x2="402.70" y2="453.70" stroke="#1e1e1e" stroke-width="1.4"/>
<line x1="353.80" y1="450.20" x2="357.10" y2="450.20" stroke="#1e1e1e" stroke-width="1.0"/>
<text transform="translate(349.90 452.40)" font-size="6.3" text-anchor="end" fill="#3a3a3a" stroke="#3a3a3a" stroke-width="0.12">0.0</text>
<line x1="353.80" y1="440.10" x2="357.10" y2="440.10" stroke="#1e1e1e" stroke-width="1.0"/>
<text transform="translate(349.90 442.30)" font-size="6.3" text-anchor="end" fill="#3a3a3a" stroke="#3a3a3a" stroke-width="0.12">0.5</text>
<line x1="353.80" y1="430.00" x2="357.10" y2="430.00" stroke="#1e1e1e" stroke-width="1.0"/>
<text transform="translate(349.90 432.20)" font-size="6.3" text-anchor="end" fill="#3a3a3a" stroke="#3a3a3a" stroke-width="0.12">1.0</text>
<line x1="353.80" y1="419.90" x2="357.10" y2="419.90" stroke="#1e1e1e" stroke-width="1.0"/>
<text transform="translate(349.90 422.10)" font-size="6.3" text-anchor="end" fill="#3a3a3a" stroke="#3a3a3a" stroke-width="0.12">1.5</text>
<line x1="353.80" y1="409.80" x2="357.10" y2="409.80" stroke="#1e1e1e" stroke-width="1.0"/>
<text transform="translate(349.90 412.00)" font-size="6.3" text-anchor="end" fill="#3a3a3a" stroke="#3a3a3a" stroke-width="0.12">2.0</text>
<line x1="353.80" y1="399.70" x2="357.10" y2="399.70" stroke="#1e1e1e" stroke-width="1.0"/>
<text transform="translate(349.90 401.90)" font-size="6.3" text-anchor="end" fill="#3a3a3a" stroke="#3a3a3a" stroke-width="0.12">2.5</text>
<line x1="353.80" y1="389.60" x2="357.10" y2="389.60" stroke="#1e1e1e" stroke-width="1.0"/>
<text transform="translate(349.90 391.80)" font-size="6.3" text-anchor="end" fill="#3a3a3a" stroke="#3a3a3a" stroke-width="0.12">3.0</text>
<line x1="369.00" y1="453.70" x2="369.00" y2="456.60" stroke="#1e1e1e" stroke-width="1.0"/>
<line x1="390.60" y1="453.70" x2="390.60" y2="456.60" stroke="#1e1e1e" stroke-width="1.0"/>
<text transform="translate(359.43 381.00) scale(0.9897 1)" font-size="8.6" font-style="italic" fill="#303030" stroke="#303030" stroke-width="0.12">ATP6V1B2</text>
<text transform="translate(369.10 463.40) rotate(-45)" font-size="6.0" text-anchor="end" fill="#303030" stroke="#303030" stroke-width="0.12">before IFN&#947;</text>
<text transform="translate(390.70 463.40) rotate(-45)" font-size="6.0" text-anchor="end" fill="#303030" stroke="#303030" stroke-width="0.12">after IFN&#947;</text>
<line x1="434.20" y1="387.90" x2="434.20" y2="454.40" stroke="#1e1e1e" stroke-width="1.4"/>
<line x1="433.50" y1="453.70" x2="480.90" y2="453.70" stroke="#1e1e1e" stroke-width="1.4"/>
<line x1="430.90" y1="450.50" x2="434.20" y2="450.50" stroke="#1e1e1e" stroke-width="1.0"/>
<text transform="translate(427.00 452.70)" font-size="6.3" text-anchor="end" fill="#3a3a3a" stroke="#3a3a3a" stroke-width="0.12">0.0</text>
<line x1="430.90" y1="439.55" x2="434.20" y2="439.55" stroke="#1e1e1e" stroke-width="1.0"/>
<text transform="translate(427.00 441.75)" font-size="6.3" text-anchor="end" fill="#3a3a3a" stroke="#3a3a3a" stroke-width="0.12">0.5</text>
<line x1="430.90" y1="428.60" x2="434.20" y2="428.60" stroke="#1e1e1e" stroke-width="1.0"/>
<text transform="translate(427.00 430.80)" font-size="6.3" text-anchor="end" fill="#3a3a3a" stroke="#3a3a3a" stroke-width="0.12">1.0</text>
<line x1="430.90" y1="417.65" x2="434.20" y2="417.65" stroke="#1e1e1e" stroke-width="1.0"/>
<text transform="translate(427.00 419.85)" font-size="6.3" text-anchor="end" fill="#3a3a3a" stroke="#3a3a3a" stroke-width="0.12">1.5</text>
<line x1="430.90" y1="406.70" x2="434.20" y2="406.70" stroke="#1e1e1e" stroke-width="1.0"/>
<text transform="translate(427.00 408.90)" font-size="6.3" text-anchor="end" fill="#3a3a3a" stroke="#3a3a3a" stroke-width="0.12">2.0</text>
<line x1="430.90" y1="395.75" x2="434.20" y2="395.75" stroke="#1e1e1e" stroke-width="1.0"/>
<text transform="translate(427.00 397.95)" font-size="6.3" text-anchor="end" fill="#3a3a3a" stroke="#3a3a3a" stroke-width="0.12">2.5</text>
<line x1="446.90" y1="453.70" x2="446.90" y2="456.60" stroke="#1e1e1e" stroke-width="1.0"/>
<line x1="468.10" y1="453.70" x2="468.10" y2="456.60" stroke="#1e1e1e" stroke-width="1.0"/>
<text transform="translate(447.61 382.30) scale(0.9570 1)" font-size="8.6" font-style="italic" fill="#303030" stroke="#303030" stroke-width="0.12">ATG3</text>
<text transform="translate(447.00 463.40) rotate(-45)" font-size="6.0" text-anchor="end" fill="#303030" stroke="#303030" stroke-width="0.12">before IFN&#947;</text>
<text transform="translate(468.20 463.40) rotate(-45)" font-size="6.0" text-anchor="end" fill="#303030" stroke="#303030" stroke-width="0.12">after IFN&#947;</text>
<circle cx="57.2" cy="429.5" r="0.5" fill="#c4c4c4"/>
<circle cx="60.0" cy="398.8" r="0.5" fill="#c4c4c4"/>
<circle cx="54.7" cy="398.1" r="0.5" fill="#c4c4c4"/>
<circle cx="57.3" cy="421.9" r="0.5" fill="#c4c4c4"/>
<circle cx="61.9" cy="398.7" r="0.5" fill="#c4c4c4"/>
<circle cx="59.0" cy="399.8" r="0.5" fill="#c4c4c4"/>
<circle cx="52.0" cy="401.6" r="0.5" fill="#c4c4c4"/>
<circle cx="61.2" cy="406.8" r="0.5" fill="#c4c4c4"/>
<circle cx="51.9" cy="425.6" r="0.5" fill="#c4c4c4"/>
<circle cx="51.8" cy="416.0" r="0.5" fill="#c4c4c4"/>
<circle cx="59.2" cy="440.5" r="0.5" fill="#c4c4c4"/>
<circle cx="57.9" cy="410.3" r="0.5" fill="#c4c4c4"/>
<circle cx="59.2" cy="411.3" r="0.5" fill="#c4c4c4"/>
<circle cx="59.5" cy="438.3" r="0.5" fill="#c4c4c4"/>
<circle cx="60.1" cy="428.9" r="0.5" fill="#c4c4c4"/>
<circle cx="62.5" cy="414.7" r="0.5" fill="#c4c4c4"/>
<circle cx="56.8" cy="398.2" r="0.5" fill="#c4c4c4"/>
<circle cx="57.7" cy="405.9" r="0.5" fill="#c4c4c4"/>
<circle cx="56.5" cy="411.6" r="0.5" fill="#c4c4c4"/>
<circle cx="54.6" cy="426.0" r="0.5" fill="#c4c4c4"/>
<circle cx="55.2" cy="437.1" r="0.5" fill="#c4c4c4"/>
<circle cx="59.0" cy="432.0" r="0.5" fill="#c4c4c4"/>
<circle cx="58.3" cy="422.8" r="0.5" fill="#c4c4c4"/>
<circle cx="62.8" cy="441.4" r="0.5" fill="#c4c4c4"/>
<circle cx="57.7" cy="446.9" r="0.5" fill="#c4c4c4"/>
<circle cx="55.1" cy="401.3" r="0.5" fill="#c4c4c4"/>
<circle cx="52.8" cy="403.1" r="0.5" fill="#c4c4c4"/>
<circle cx="61.1" cy="420.9" r="0.5" fill="#c4c4c4"/>
<circle cx="63.3" cy="435.5" r="0.5" fill="#c4c4c4"/>
<circle cx="59.4" cy="425.4" r="0.5" fill="#c4c4c4"/>
<circle cx="60.3" cy="431.9" r="0.5" fill="#c4c4c4"/>
<circle cx="55.9" cy="426.5" r="0.5" fill="#c4c4c4"/>
<circle cx="54.6" cy="439.5" r="0.5" fill="#c4c4c4"/>
<circle cx="56.2" cy="445.1" r="0.5" fill="#c4c4c4"/>
<circle cx="52.8" cy="398.2" r="0.5" fill="#c4c4c4"/>
<circle cx="59.0" cy="432.2" r="0.5" fill="#c4c4c4"/>
<circle cx="51.2" cy="438.6" r="0.5" fill="#c4c4c4"/>
<circle cx="48.9" cy="410.1" r="0.5" fill="#c4c4c4"/>
<circle cx="54.0" cy="396.2" r="0.5" fill="#c4c4c4"/>
<circle cx="61.7" cy="419.5" r="0.5" fill="#c4c4c4"/>
<circle cx="59.0" cy="398.1" r="0.5" fill="#c4c4c4"/>
<circle cx="59.7" cy="435.7" r="0.5" fill="#c4c4c4"/>
<circle cx="60.0" cy="415.7" r="0.5" fill="#c4c4c4"/>
<circle cx="60.1" cy="441.2" r="0.5" fill="#c4c4c4"/>
<circle cx="61.6" cy="424.1" r="0.5" fill="#c4c4c4"/>
<circle cx="60.0" cy="441.8" r="0.5" fill="#c4c4c4"/>
<circle cx="61.2" cy="409.8" r="0.5" fill="#c4c4c4"/>
<circle cx="51.5" cy="417.0" r="0.5" fill="#c4c4c4"/>
<circle cx="74.8" cy="446.0" r="0.5" fill="#c4c4c4"/>
<circle cx="85.5" cy="407.2" r="0.5" fill="#c4c4c4"/>
<circle cx="80.8" cy="411.2" r="0.5" fill="#c4c4c4"/>
<circle cx="82.0" cy="423.3" r="0.5" fill="#c4c4c4"/>
<circle cx="77.2" cy="400.2" r="0.5" fill="#c4c4c4"/>
<circle cx="78.1" cy="420.1" r="0.5" fill="#c4c4c4"/>
<circle cx="76.4" cy="445.7" r="0.5" fill="#c4c4c4"/>
<circle cx="83.0" cy="433.1" r="0.5" fill="#c4c4c4"/>
<circle cx="74.6" cy="432.5" r="0.5" fill="#c4c4c4"/>
<circle cx="79.1" cy="402.6" r="0.5" fill="#c4c4c4"/>
<circle cx="84.7" cy="442.0" r="0.5" fill="#c4c4c4"/>
<circle cx="75.9" cy="438.3" r="0.5" fill="#c4c4c4"/>
<circle cx="76.7" cy="405.0" r="0.5" fill="#c4c4c4"/>
<circle cx="81.9" cy="430.4" r="0.5" fill="#c4c4c4"/>
<circle cx="80.9" cy="410.0" r="0.5" fill="#c4c4c4"/>
<circle cx="80.1" cy="407.8" r="0.5" fill="#c4c4c4"/>
<circle cx="79.0" cy="400.0" r="0.5" fill="#c4c4c4"/>
<circle cx="80.6" cy="407.3" r="0.5" fill="#c4c4c4"/>
<circle cx="82.4" cy="401.2" r="0.5" fill="#c4c4c4"/>
<circle cx="81.7" cy="442.0" r="0.5" fill="#c4c4c4"/>
<circle cx="78.0" cy="412.1" r="0.5" fill="#c4c4c4"/>
<circle cx="78.2" cy="416.7" r="0.5" fill="#c4c4c4"/>
<circle cx="78.4" cy="440.7" r="0.5" fill="#c4c4c4"/>
<circle cx="81.0" cy="447.7" r="0.5" fill="#c4c4c4"/>
<circle cx="75.5" cy="404.1" r="0.5" fill="#c4c4c4"/>
<circle cx="80.5" cy="404.9" r="0.5" fill="#c4c4c4"/>
<circle cx="78.0" cy="439.8" r="0.5" fill="#c4c4c4"/>
<circle cx="82.0" cy="407.7" r="0.5" fill="#c4c4c4"/>
<circle cx="88.4" cy="425.4" r="0.5" fill="#c4c4c4"/>
<circle cx="80.9" cy="407.0" r="0.5" fill="#c4c4c4"/>
<circle cx="78.8" cy="425.3" r="0.5" fill="#c4c4c4"/>
<circle cx="79.4" cy="447.0" r="0.5" fill="#c4c4c4"/>
<circle cx="83.3" cy="412.5" r="0.5" fill="#c4c4c4"/>
<circle cx="75.4" cy="417.6" r="0.5" fill="#c4c4c4"/>
<circle cx="82.7" cy="425.6" r="0.5" fill="#c4c4c4"/>
<circle cx="85.0" cy="437.4" r="0.5" fill="#c4c4c4"/>
<circle cx="78.4" cy="439.0" r="0.5" fill="#c4c4c4"/>
<circle cx="81.9" cy="447.3" r="0.5" fill="#c4c4c4"/>
<circle cx="83.6" cy="439.3" r="0.5" fill="#c4c4c4"/>
<circle cx="74.3" cy="435.5" r="0.5" fill="#c4c4c4"/>
<line x1="57.90" y1="391.00" x2="57.90" y2="404.00" stroke="#3a3340" stroke-width="0.9"/>
<path d="M57.65,400.80 C57.46,401.34 56.82,403.79 56.52,405.40 C56.22,407.01 55.37,412.90 55.08,414.60 C54.79,416.30 54.27,418.79 54.08,420.00 C53.89,421.21 53.42,423.61 53.48,425.00 C53.54,426.39 54.20,430.29 54.58,431.90 C54.96,433.51 56.47,437.73 56.77,438.80 C57.06,439.87 57.22,440.55 57.09,441.10 C56.96,441.65 56.15,442.96 55.68,443.50 C55.21,444.04 53.66,445.18 53.08,445.70 C52.50,446.22 51.17,447.57 50.68,448.00 C50.19,448.43 49.12,449.15 48.88,449.40 C48.63,449.64 46.44,450.02 48.58,450.10 C50.72,450.18 65.08,450.18 67.22,450.10 C69.36,450.02 67.17,449.64 66.92,449.40 C66.67,449.15 65.61,448.43 65.12,448.00 C64.63,447.57 63.30,446.22 62.72,445.70 C62.14,445.18 60.59,444.04 60.12,443.50 C59.65,442.96 58.84,441.65 58.71,441.10 C58.58,440.55 58.74,439.87 59.03,438.80 C59.33,437.73 60.84,433.51 61.22,431.90 C61.60,430.29 62.26,426.39 62.32,425.00 C62.38,423.61 61.91,421.21 61.72,420.00 C61.53,418.79 61.01,416.30 60.72,414.60 C60.43,412.90 59.58,407.01 59.28,405.40 C58.98,403.79 58.34,401.34 58.15,400.80 C57.96,400.26 57.84,400.26 57.65,400.80Z" fill="#a49ad4" stroke="#3a2f48" stroke-width="0.65" stroke-linejoin="round"/>
<line x1="79.40" y1="397.30" x2="79.40" y2="418.00" stroke="#3a3340" stroke-width="0.9"/>
<path d="M79.15,414.60 C78.99,415.28 78.45,418.79 78.27,420.40 C78.08,422.01 77.68,426.93 77.58,428.40 C77.48,429.87 77.30,431.92 77.38,433.00 C77.46,434.08 78.14,436.75 78.27,437.70 C78.39,438.64 78.62,440.30 78.43,441.10 C78.23,441.91 77.06,443.92 76.58,444.60 C76.10,445.28 74.84,446.41 74.28,446.90 C73.72,447.39 72.21,448.49 71.78,448.80 C71.35,449.12 70.76,449.45 70.58,449.60 C70.41,449.75 68.19,450.04 70.28,450.10 C72.37,450.16 86.43,450.16 88.52,450.10 C90.61,450.04 88.39,449.75 88.22,449.60 C88.05,449.45 87.45,449.12 87.02,448.80 C86.59,448.49 85.08,447.39 84.52,446.90 C83.96,446.41 82.70,445.28 82.22,444.60 C81.74,443.92 80.57,441.91 80.37,441.10 C80.18,440.30 80.41,438.64 80.53,437.70 C80.66,436.75 81.34,434.08 81.42,433.00 C81.50,431.92 81.32,429.87 81.22,428.40 C81.12,426.93 80.72,422.01 80.53,420.40 C80.35,418.79 79.81,415.28 79.65,414.60 C79.49,413.92 79.31,413.92 79.15,414.60Z" fill="#7b4594" stroke="#3a2f48" stroke-width="0.65" stroke-linejoin="round"/>
<circle cx="136.5" cy="420.3" r="0.5" fill="#c4c4c4"/>
<circle cx="140.2" cy="406.2" r="0.5" fill="#c4c4c4"/>
<circle cx="138.8" cy="416.1" r="0.5" fill="#c4c4c4"/>
<circle cx="136.4" cy="434.8" r="0.5" fill="#c4c4c4"/>
<circle cx="139.7" cy="445.3" r="0.5" fill="#c4c4c4"/>
<circle cx="134.8" cy="447.5" r="0.5" fill="#c4c4c4"/>
<circle cx="139.2" cy="414.5" r="0.5" fill="#c4c4c4"/>
<circle cx="134.9" cy="414.8" r="0.5" fill="#c4c4c4"/>
<circle cx="136.7" cy="431.8" r="0.5" fill="#c4c4c4"/>
<circle cx="138.2" cy="443.7" r="0.5" fill="#c4c4c4"/>
<circle cx="138.1" cy="433.1" r="0.5" fill="#c4c4c4"/>
<circle cx="132.4" cy="439.4" r="0.5" fill="#c4c4c4"/>
<circle cx="140.5" cy="444.1" r="0.5" fill="#c4c4c4"/>
<circle cx="138.6" cy="438.6" r="0.5" fill="#c4c4c4"/>
<circle cx="135.9" cy="412.7" r="0.5" fill="#c4c4c4"/>
<circle cx="131.8" cy="438.9" r="0.5" fill="#c4c4c4"/>
<circle cx="132.7" cy="446.8" r="0.5" fill="#c4c4c4"/>
<circle cx="141.6" cy="422.0" r="0.5" fill="#c4c4c4"/>
<circle cx="128.7" cy="436.2" r="0.5" fill="#c4c4c4"/>
<circle cx="141.0" cy="412.3" r="0.5" fill="#c4c4c4"/>
<circle cx="137.4" cy="443.9" r="0.5" fill="#c4c4c4"/>
<circle cx="137.4" cy="439.7" r="0.5" fill="#c4c4c4"/>
<circle cx="140.0" cy="447.2" r="0.5" fill="#c4c4c4"/>
<circle cx="141.3" cy="433.3" r="0.5" fill="#c4c4c4"/>
<circle cx="133.2" cy="410.6" r="0.5" fill="#c4c4c4"/>
<circle cx="139.6" cy="405.6" r="0.5" fill="#c4c4c4"/>
<circle cx="141.1" cy="427.6" r="0.5" fill="#c4c4c4"/>
<circle cx="134.9" cy="445.1" r="0.5" fill="#c4c4c4"/>
<circle cx="129.2" cy="440.5" r="0.5" fill="#c4c4c4"/>
<circle cx="138.9" cy="414.1" r="0.5" fill="#c4c4c4"/>
<circle cx="135.9" cy="415.3" r="0.5" fill="#c4c4c4"/>
<circle cx="138.9" cy="430.2" r="0.5" fill="#c4c4c4"/>
<circle cx="135.7" cy="410.6" r="0.5" fill="#c4c4c4"/>
<circle cx="139.7" cy="444.1" r="0.5" fill="#c4c4c4"/>
<circle cx="133.5" cy="430.1" r="0.5" fill="#c4c4c4"/>
<circle cx="139.1" cy="443.9" r="0.5" fill="#c4c4c4"/>
<circle cx="128.8" cy="426.6" r="0.5" fill="#c4c4c4"/>
<circle cx="139.8" cy="427.9" r="0.5" fill="#c4c4c4"/>
<circle cx="135.2" cy="423.9" r="0.5" fill="#c4c4c4"/>
<circle cx="135.8" cy="412.9" r="0.5" fill="#c4c4c4"/>
<circle cx="142.4" cy="412.4" r="0.5" fill="#c4c4c4"/>
<circle cx="136.1" cy="425.4" r="0.5" fill="#c4c4c4"/>
<circle cx="135.2" cy="419.0" r="0.5" fill="#c4c4c4"/>
<circle cx="131.3" cy="427.3" r="0.5" fill="#c4c4c4"/>
<circle cx="151.1" cy="400.6" r="0.5" fill="#c4c4c4"/>
<circle cx="154.9" cy="424.7" r="0.5" fill="#c4c4c4"/>
<circle cx="157.1" cy="435.9" r="0.5" fill="#c4c4c4"/>
<circle cx="160.0" cy="421.9" r="0.5" fill="#c4c4c4"/>
<circle cx="151.4" cy="443.4" r="0.5" fill="#c4c4c4"/>
<circle cx="154.8" cy="418.5" r="0.5" fill="#c4c4c4"/>
<circle cx="153.8" cy="422.1" r="0.5" fill="#c4c4c4"/>
<circle cx="154.3" cy="431.7" r="0.5" fill="#c4c4c4"/>
<circle cx="152.8" cy="420.3" r="0.5" fill="#c4c4c4"/>
<circle cx="158.4" cy="444.9" r="0.5" fill="#c4c4c4"/>
<circle cx="154.8" cy="444.9" r="0.5" fill="#c4c4c4"/>
<circle cx="150.0" cy="408.8" r="0.5" fill="#c4c4c4"/>
<circle cx="149.0" cy="439.5" r="0.5" fill="#c4c4c4"/>
<circle cx="153.9" cy="402.3" r="0.5" fill="#c4c4c4"/>
<circle cx="159.9" cy="398.8" r="0.5" fill="#c4c4c4"/>
<circle cx="159.8" cy="407.8" r="0.5" fill="#c4c4c4"/>
<circle cx="161.9" cy="436.5" r="0.5" fill="#c4c4c4"/>
<circle cx="159.5" cy="442.5" r="0.5" fill="#c4c4c4"/>
<circle cx="160.4" cy="430.0" r="0.5" fill="#c4c4c4"/>
<circle cx="161.9" cy="402.6" r="0.5" fill="#c4c4c4"/>
<circle cx="164.2" cy="406.6" r="0.5" fill="#c4c4c4"/>
<circle cx="150.7" cy="445.5" r="0.5" fill="#c4c4c4"/>
<circle cx="153.7" cy="447.5" r="0.5" fill="#c4c4c4"/>
<circle cx="159.6" cy="439.1" r="0.5" fill="#c4c4c4"/>
<line x1="135.90" y1="403.00" x2="135.90" y2="450.30" stroke="#8a8a8a" stroke-width="0.7"/>
<line x1="126.30" y1="450.30" x2="144.80" y2="450.30" stroke="#8a8a8a" stroke-width="1.0"/>
<path d="M156.78,391.00 C156.59,391.58 156.10,394.60 155.80,396.00 C155.51,397.40 154.61,401.54 154.28,403.00 C153.95,404.46 153.26,407.15 152.98,408.50 C152.70,409.85 152.07,413.14 151.88,414.60 C151.69,416.06 151.46,419.39 151.38,421.00 C151.30,422.61 150.97,426.86 151.18,428.40 C151.39,429.94 152.82,432.85 153.18,434.20 C153.54,435.55 154.25,439.03 154.28,440.00 C154.31,440.97 153.95,441.83 153.48,442.50 C153.01,443.17 150.86,445.00 150.28,445.70 C149.70,446.40 148.79,447.98 148.48,448.50 C148.16,449.02 145.46,450.00 147.58,450.20 C149.70,450.40 164.50,450.40 166.62,450.20 C168.74,450.00 166.03,449.02 165.72,448.50 C165.41,447.98 164.50,446.40 163.92,445.70 C163.34,445.00 161.19,443.17 160.72,442.50 C160.25,441.83 159.88,440.97 159.92,440.00 C159.95,439.03 160.66,435.55 161.02,434.20 C161.38,432.85 162.81,429.94 163.02,428.40 C163.23,426.86 162.90,422.61 162.82,421.00 C162.74,419.39 162.51,416.06 162.32,414.60 C162.13,413.14 161.50,409.85 161.22,408.50 C160.94,407.15 160.25,404.46 159.92,403.00 C159.59,401.54 158.69,397.40 158.40,396.00 C158.10,394.60 157.61,391.58 157.42,391.00 C157.24,390.42 156.96,390.42 156.78,391.00Z" fill="#7b4594" stroke="#3a2f48" stroke-width="0.65" stroke-linejoin="round"/>
<circle cx="215.6" cy="427.2" r="0.5" fill="#c4c4c4"/>
<circle cx="216.9" cy="419.6" r="0.5" fill="#c4c4c4"/>
<circle cx="214.7" cy="436.1" r="0.5" fill="#c4c4c4"/>
<circle cx="216.6" cy="405.8" r="0.5" fill="#c4c4c4"/>
<circle cx="209.9" cy="405.8" r="0.5" fill="#c4c4c4"/>
<circle cx="212.3" cy="419.3" r="0.5" fill="#c4c4c4"/>
<circle cx="210.5" cy="407.8" r="0.5" fill="#c4c4c4"/>
<circle cx="210.5" cy="447.4" r="0.5" fill="#c4c4c4"/>
<circle cx="215.9" cy="409.5" r="0.5" fill="#c4c4c4"/>
<circle cx="204.2" cy="416.4" r="0.5" fill="#c4c4c4"/>
<circle cx="219.7" cy="416.6" r="0.5" fill="#c4c4c4"/>
<circle cx="215.2" cy="410.6" r="0.5" fill="#c4c4c4"/>
<circle cx="206.5" cy="440.2" r="0.5" fill="#c4c4c4"/>
<circle cx="217.4" cy="416.1" r="0.5" fill="#c4c4c4"/>
<circle cx="218.4" cy="429.5" r="0.5" fill="#c4c4c4"/>
<circle cx="220.2" cy="435.1" r="0.5" fill="#c4c4c4"/>
<circle cx="214.7" cy="434.6" r="0.5" fill="#c4c4c4"/>
<circle cx="214.3" cy="423.3" r="0.5" fill="#c4c4c4"/>
<circle cx="221.3" cy="432.3" r="0.5" fill="#c4c4c4"/>
<circle cx="217.4" cy="439.5" r="0.5" fill="#c4c4c4"/>
<circle cx="219.8" cy="407.9" r="0.5" fill="#c4c4c4"/>
<circle cx="217.2" cy="442.1" r="0.5" fill="#c4c4c4"/>
<circle cx="210.4" cy="428.8" r="0.5" fill="#c4c4c4"/>
<circle cx="214.5" cy="444.8" r="0.5" fill="#c4c4c4"/>
<circle cx="213.4" cy="427.7" r="0.5" fill="#c4c4c4"/>
<circle cx="215.5" cy="415.3" r="0.5" fill="#c4c4c4"/>
<circle cx="215.3" cy="407.2" r="0.5" fill="#c4c4c4"/>
<circle cx="215.0" cy="413.7" r="0.5" fill="#c4c4c4"/>
<circle cx="212.4" cy="437.7" r="0.5" fill="#c4c4c4"/>
<circle cx="216.5" cy="417.5" r="0.5" fill="#c4c4c4"/>
<circle cx="211.3" cy="419.9" r="0.5" fill="#c4c4c4"/>
<circle cx="213.6" cy="405.8" r="0.5" fill="#c4c4c4"/>
<circle cx="213.6" cy="436.5" r="0.5" fill="#c4c4c4"/>
<circle cx="214.2" cy="428.7" r="0.5" fill="#c4c4c4"/>
<circle cx="215.1" cy="445.2" r="0.5" fill="#c4c4c4"/>
<circle cx="217.4" cy="409.6" r="0.5" fill="#c4c4c4"/>
<circle cx="215.2" cy="426.3" r="0.5" fill="#c4c4c4"/>
<circle cx="210.1" cy="440.9" r="0.5" fill="#c4c4c4"/>
<circle cx="210.2" cy="434.6" r="0.5" fill="#c4c4c4"/>
<circle cx="216.3" cy="447.2" r="0.5" fill="#c4c4c4"/>
<circle cx="231.3" cy="432.5" r="0.5" fill="#c4c4c4"/>
<circle cx="240.8" cy="428.7" r="0.5" fill="#c4c4c4"/>
<circle cx="232.3" cy="397.9" r="0.5" fill="#c4c4c4"/>
<circle cx="237.0" cy="401.9" r="0.5" fill="#c4c4c4"/>
<circle cx="240.5" cy="408.5" r="0.5" fill="#c4c4c4"/>
<circle cx="237.7" cy="403.7" r="0.5" fill="#c4c4c4"/>
<circle cx="241.1" cy="441.1" r="0.5" fill="#c4c4c4"/>
<circle cx="238.6" cy="430.5" r="0.5" fill="#c4c4c4"/>
<circle cx="234.6" cy="410.5" r="0.5" fill="#c4c4c4"/>
<circle cx="237.8" cy="419.4" r="0.5" fill="#c4c4c4"/>
<circle cx="237.3" cy="409.0" r="0.5" fill="#c4c4c4"/>
<circle cx="238.4" cy="446.0" r="0.5" fill="#c4c4c4"/>
<circle cx="239.6" cy="408.0" r="0.5" fill="#c4c4c4"/>
<circle cx="234.3" cy="446.2" r="0.5" fill="#c4c4c4"/>
<circle cx="233.9" cy="395.1" r="0.5" fill="#c4c4c4"/>
<circle cx="238.3" cy="415.2" r="0.5" fill="#c4c4c4"/>
<circle cx="230.9" cy="405.7" r="0.5" fill="#c4c4c4"/>
<circle cx="235.8" cy="421.8" r="0.5" fill="#c4c4c4"/>
<circle cx="237.9" cy="399.8" r="0.5" fill="#c4c4c4"/>
<circle cx="235.2" cy="416.2" r="0.5" fill="#c4c4c4"/>
<circle cx="235.8" cy="411.1" r="0.5" fill="#c4c4c4"/>
<circle cx="235.3" cy="407.3" r="0.5" fill="#c4c4c4"/>
<circle cx="231.3" cy="434.8" r="0.5" fill="#c4c4c4"/>
<circle cx="232.8" cy="429.8" r="0.5" fill="#c4c4c4"/>
<line x1="213.60" y1="403.00" x2="213.60" y2="425.00" stroke="#3a3340" stroke-width="0.9"/>
<path d="M213.35,420.00 C213.24,420.58 212.96,423.75 212.87,425.00 C212.78,426.25 212.56,429.42 212.55,430.70 C212.54,431.98 212.71,434.65 212.79,436.00 C212.87,437.35 213.31,441.37 213.19,442.30 C213.08,443.23 212.19,443.60 211.78,444.00 C211.37,444.40 210.26,445.23 209.68,445.70 C209.10,446.17 207.35,447.55 206.78,448.00 C206.21,448.45 205.08,449.34 204.78,449.60 C204.48,449.86 202.05,450.13 204.18,450.20 C206.31,450.27 220.89,450.27 223.02,450.20 C225.15,450.13 222.72,449.86 222.42,449.60 C222.12,449.34 220.99,448.45 220.42,448.00 C219.85,447.55 218.10,446.17 217.52,445.70 C216.94,445.23 215.83,444.40 215.42,444.00 C215.01,443.60 214.12,443.23 214.00,442.30 C213.89,441.37 214.33,437.35 214.41,436.00 C214.49,434.65 214.66,431.98 214.65,430.70 C214.64,429.42 214.42,426.25 214.33,425.00 C214.24,423.75 213.96,420.58 213.85,420.00 C213.74,419.42 213.46,419.42 213.35,420.00Z" fill="#a49ad4" stroke="#3a2f48" stroke-width="0.65" stroke-linejoin="round"/>
<line x1="235.10" y1="391.00" x2="235.10" y2="405.00" stroke="#3a3340" stroke-width="0.9"/>
<path d="M234.85,401.00 C234.73,401.47 234.43,404.07 234.29,405.00 C234.15,405.93 233.81,407.88 233.64,409.00 C233.48,410.12 233.10,412.87 232.88,414.60 C232.66,416.33 232.05,421.92 231.78,423.80 C231.51,425.68 230.52,429.08 230.58,430.70 C230.64,432.32 232.01,436.35 232.28,437.70 C232.55,439.05 232.95,441.56 232.88,442.30 C232.81,443.04 232.11,443.60 231.68,444.00 C231.25,444.40 229.72,445.23 229.18,445.70 C228.64,446.17 227.46,447.55 227.08,448.00 C226.69,448.45 226.07,449.34 225.88,449.60 C225.69,449.86 223.28,450.13 225.48,450.20 C227.68,450.27 242.52,450.27 244.72,450.20 C246.92,450.13 244.51,449.86 244.32,449.60 C244.13,449.34 243.50,448.45 243.12,448.00 C242.74,447.55 241.56,446.17 241.02,445.70 C240.48,445.23 238.95,444.40 238.52,444.00 C238.09,443.60 237.39,443.04 237.32,442.30 C237.25,441.56 237.65,439.05 237.92,437.70 C238.19,436.35 239.56,432.32 239.62,430.70 C239.68,429.08 238.69,425.68 238.42,423.80 C238.15,421.92 237.54,416.33 237.32,414.60 C237.10,412.87 236.72,410.12 236.56,409.00 C236.39,407.88 236.05,405.93 235.91,405.00 C235.77,404.07 235.47,401.47 235.35,401.00 C235.23,400.53 234.97,400.53 234.85,401.00Z" fill="#7b4594" stroke="#3a2f48" stroke-width="0.65" stroke-linejoin="round"/>
<circle cx="289.9" cy="417.5" r="0.5" fill="#c4c4c4"/>
<circle cx="284.2" cy="414.3" r="0.5" fill="#c4c4c4"/>
<circle cx="293.6" cy="434.2" r="0.5" fill="#c4c4c4"/>
<circle cx="291.3" cy="430.2" r="0.5" fill="#c4c4c4"/>
<circle cx="298.1" cy="442.6" r="0.5" fill="#c4c4c4"/>
<circle cx="293.4" cy="429.4" r="0.5" fill="#c4c4c4"/>
<circle cx="290.8" cy="405.0" r="0.5" fill="#c4c4c4"/>
<circle cx="284.9" cy="424.2" r="0.5" fill="#c4c4c4"/>
<circle cx="284.6" cy="438.2" r="0.5" fill="#c4c4c4"/>
<circle cx="291.3" cy="439.3" r="0.5" fill="#c4c4c4"/>
<circle cx="284.9" cy="432.1" r="0.5" fill="#c4c4c4"/>
<circle cx="287.6" cy="432.7" r="0.5" fill="#c4c4c4"/>
<circle cx="291.6" cy="404.7" r="0.5" fill="#c4c4c4"/>
<circle cx="292.4" cy="416.0" r="0.5" fill="#c4c4c4"/>
<circle cx="297.0" cy="425.9" r="0.5" fill="#c4c4c4"/>
<circle cx="295.7" cy="429.4" r="0.5" fill="#c4c4c4"/>
<circle cx="287.6" cy="422.5" r="0.5" fill="#c4c4c4"/>
<circle cx="287.6" cy="398.2" r="0.5" fill="#c4c4c4"/>
<circle cx="293.3" cy="423.1" r="0.5" fill="#c4c4c4"/>
<circle cx="285.7" cy="424.8" r="0.5" fill="#c4c4c4"/>
<circle cx="290.8" cy="434.8" r="0.5" fill="#c4c4c4"/>
<circle cx="290.4" cy="410.6" r="0.5" fill="#c4c4c4"/>
<circle cx="294.1" cy="434.5" r="0.5" fill="#c4c4c4"/>
<circle cx="292.8" cy="408.3" r="0.5" fill="#c4c4c4"/>
<circle cx="290.9" cy="422.7" r="0.5" fill="#c4c4c4"/>
<circle cx="281.6" cy="417.1" r="0.5" fill="#c4c4c4"/>
<circle cx="286.0" cy="436.3" r="0.5" fill="#c4c4c4"/>
<circle cx="292.2" cy="428.8" r="0.5" fill="#c4c4c4"/>
<circle cx="290.6" cy="405.4" r="0.5" fill="#c4c4c4"/>
<circle cx="290.4" cy="410.7" r="0.5" fill="#c4c4c4"/>
<circle cx="291.4" cy="426.4" r="0.5" fill="#c4c4c4"/>
<circle cx="288.4" cy="398.6" r="0.5" fill="#c4c4c4"/>
<circle cx="294.2" cy="431.6" r="0.5" fill="#c4c4c4"/>
<circle cx="292.6" cy="432.6" r="0.5" fill="#c4c4c4"/>
<circle cx="290.1" cy="423.8" r="0.5" fill="#c4c4c4"/>
<circle cx="288.8" cy="421.2" r="0.5" fill="#c4c4c4"/>
<circle cx="289.7" cy="442.7" r="0.5" fill="#c4c4c4"/>
<circle cx="291.9" cy="408.0" r="0.5" fill="#c4c4c4"/>
<circle cx="300.0" cy="398.9" r="0.5" fill="#c4c4c4"/>
<circle cx="290.3" cy="420.9" r="0.5" fill="#c4c4c4"/>
<circle cx="316.9" cy="420.5" r="0.5" fill="#c4c4c4"/>
<circle cx="304.2" cy="411.4" r="0.5" fill="#c4c4c4"/>
<circle cx="315.0" cy="408.5" r="0.5" fill="#c4c4c4"/>
<circle cx="321.3" cy="427.1" r="0.5" fill="#c4c4c4"/>
<circle cx="315.6" cy="445.6" r="0.5" fill="#c4c4c4"/>
<circle cx="316.2" cy="404.6" r="0.5" fill="#c4c4c4"/>
<circle cx="314.7" cy="442.3" r="0.5" fill="#c4c4c4"/>
<circle cx="308.9" cy="433.2" r="0.5" fill="#c4c4c4"/>
<circle cx="313.7" cy="422.3" r="0.5" fill="#c4c4c4"/>
<circle cx="320.5" cy="399.2" r="0.5" fill="#c4c4c4"/>
<circle cx="317.0" cy="420.5" r="0.5" fill="#c4c4c4"/>
<circle cx="312.9" cy="413.1" r="0.5" fill="#c4c4c4"/>
<circle cx="314.9" cy="413.8" r="0.5" fill="#c4c4c4"/>
<circle cx="315.4" cy="440.0" r="0.5" fill="#c4c4c4"/>
<circle cx="318.9" cy="440.0" r="0.5" fill="#c4c4c4"/>
<circle cx="312.9" cy="404.0" r="0.5" fill="#c4c4c4"/>
<line x1="291.50" y1="393.80" x2="291.50" y2="398.00" stroke="#3a3340" stroke-width="0.9"/>
<path d="M291.18,396.00 C290.95,396.82 290.25,400.83 289.88,403.00 C289.51,405.17 288.31,412.62 287.98,414.60 C287.65,416.58 287.24,418.66 287.08,420.00 C286.92,421.34 286.49,424.58 286.58,426.10 C286.67,427.62 287.44,431.38 287.88,433.00 C288.32,434.62 290.13,438.95 290.37,440.00 C290.60,441.05 290.40,441.46 289.88,442.00 C289.36,442.54 286.63,443.96 285.88,444.60 C285.13,445.24 283.89,446.94 283.48,447.50 C283.07,448.06 282.54,449.10 282.38,449.40 C282.22,449.70 279.92,450.02 282.08,450.10 C284.24,450.18 298.76,450.18 300.92,450.10 C303.08,450.02 300.78,449.70 300.62,449.40 C300.46,449.10 299.93,448.06 299.52,447.50 C299.11,446.94 297.87,445.24 297.12,444.60 C296.37,443.96 293.64,442.54 293.12,442.00 C292.60,441.46 292.40,441.05 292.63,440.00 C292.87,438.95 294.68,434.62 295.12,433.00 C295.56,431.38 296.33,427.62 296.42,426.10 C296.51,424.58 296.08,421.34 295.92,420.00 C295.76,418.66 295.35,416.58 295.02,414.60 C294.69,412.62 293.49,405.17 293.12,403.00 C292.75,400.83 292.05,396.82 291.82,396.00 C291.60,395.18 291.40,395.18 291.18,396.00Z" fill="#a49ad4" stroke="#3a2f48" stroke-width="0.65" stroke-linejoin="round"/>
<path d="M312.31,390.80 C312.13,390.88 311.95,390.60 311.75,391.50 C311.54,392.40 311.02,396.88 310.58,398.50 C310.14,400.12 308.62,403.79 307.98,405.40 C307.34,407.01 305.58,410.55 305.08,412.30 C304.58,414.05 303.77,418.52 303.68,420.40 C303.59,422.28 303.81,426.79 304.28,428.40 C304.75,430.01 306.88,432.85 307.68,434.20 C308.49,435.55 310.75,438.99 311.18,440.00 C311.61,441.01 311.61,442.09 311.34,442.90 C311.07,443.70 309.31,446.19 308.88,446.90 C308.45,447.61 307.87,448.63 307.68,449.00 C307.49,449.37 306.04,449.97 307.28,450.10 C308.52,450.23 317.08,450.23 318.32,450.10 C319.56,449.97 318.11,449.37 317.92,449.00 C317.73,448.63 317.15,447.61 316.72,446.90 C316.29,446.19 314.53,443.70 314.26,442.90 C313.99,442.09 313.99,441.01 314.42,440.00 C314.85,438.99 317.12,435.55 317.92,434.20 C318.73,432.85 320.85,430.01 321.32,428.40 C321.79,426.79 322.01,422.28 321.92,420.40 C321.83,418.52 321.02,414.05 320.52,412.30 C320.02,410.55 318.26,407.01 317.62,405.40 C316.98,403.79 315.46,400.12 315.02,398.50 C314.58,396.88 314.06,392.40 313.85,391.50 C313.65,390.60 313.47,390.88 313.29,390.80 C313.11,390.72 312.49,390.72 312.31,390.80Z" fill="#7b4594" stroke="#3a2f48" stroke-width="0.65" stroke-linejoin="round"/>
<circle cx="374.1" cy="442.8" r="0.5" fill="#c4c4c4"/>
<circle cx="366.4" cy="410.4" r="0.5" fill="#c4c4c4"/>
<circle cx="366.5" cy="447.9" r="0.5" fill="#c4c4c4"/>
<circle cx="371.6" cy="426.2" r="0.5" fill="#c4c4c4"/>
<circle cx="366.5" cy="409.6" r="0.5" fill="#c4c4c4"/>
<circle cx="372.0" cy="397.6" r="0.5" fill="#c4c4c4"/>
<circle cx="374.5" cy="410.1" r="0.5" fill="#c4c4c4"/>
<circle cx="373.1" cy="444.6" r="0.5" fill="#c4c4c4"/>
<circle cx="369.0" cy="422.1" r="0.5" fill="#c4c4c4"/>
<circle cx="371.9" cy="405.1" r="0.5" fill="#c4c4c4"/>
<circle cx="362.6" cy="441.9" r="0.5" fill="#c4c4c4"/>
<circle cx="375.5" cy="438.0" r="0.5" fill="#c4c4c4"/>
<circle cx="363.5" cy="444.9" r="0.5" fill="#c4c4c4"/>
<circle cx="363.1" cy="424.1" r="0.5" fill="#c4c4c4"/>
<circle cx="368.8" cy="433.8" r="0.5" fill="#c4c4c4"/>
<circle cx="367.9" cy="418.9" r="0.5" fill="#c4c4c4"/>
<circle cx="369.1" cy="410.2" r="0.5" fill="#c4c4c4"/>
<circle cx="363.8" cy="397.6" r="0.5" fill="#c4c4c4"/>
<circle cx="370.7" cy="420.0" r="0.5" fill="#c4c4c4"/>
<circle cx="368.2" cy="413.2" r="0.5" fill="#c4c4c4"/>
<circle cx="367.2" cy="446.7" r="0.5" fill="#c4c4c4"/>
<circle cx="374.7" cy="408.8" r="0.5" fill="#c4c4c4"/>
<circle cx="367.3" cy="424.5" r="0.5" fill="#c4c4c4"/>
<circle cx="366.4" cy="415.9" r="0.5" fill="#c4c4c4"/>
<circle cx="370.1" cy="406.0" r="0.5" fill="#c4c4c4"/>
<circle cx="370.9" cy="443.0" r="0.5" fill="#c4c4c4"/>
<circle cx="366.4" cy="443.0" r="0.5" fill="#c4c4c4"/>
<circle cx="369.0" cy="447.8" r="0.5" fill="#c4c4c4"/>
<circle cx="367.1" cy="405.2" r="0.5" fill="#c4c4c4"/>
<circle cx="369.6" cy="399.8" r="0.5" fill="#c4c4c4"/>
<circle cx="368.1" cy="407.7" r="0.5" fill="#c4c4c4"/>
<circle cx="370.3" cy="408.7" r="0.5" fill="#c4c4c4"/>
<circle cx="383.7" cy="434.7" r="0.5" fill="#c4c4c4"/>
<circle cx="387.4" cy="416.9" r="0.5" fill="#c4c4c4"/>
<circle cx="386.8" cy="415.0" r="0.5" fill="#c4c4c4"/>
<circle cx="392.9" cy="412.9" r="0.5" fill="#c4c4c4"/>
<circle cx="393.3" cy="446.3" r="0.5" fill="#c4c4c4"/>
<circle cx="391.7" cy="401.7" r="0.5" fill="#c4c4c4"/>
<circle cx="385.5" cy="440.7" r="0.5" fill="#c4c4c4"/>
<circle cx="390.5" cy="406.4" r="0.5" fill="#c4c4c4"/>
<circle cx="390.2" cy="416.2" r="0.5" fill="#c4c4c4"/>
<circle cx="393.3" cy="418.6" r="0.5" fill="#c4c4c4"/>
<circle cx="397.4" cy="441.3" r="0.5" fill="#c4c4c4"/>
<circle cx="388.6" cy="396.2" r="0.5" fill="#c4c4c4"/>
<path d="M368.60,390.80 C368.47,391.06 368.47,392.10 368.35,393.00 C368.24,393.90 368.20,397.05 367.62,398.50 C367.04,399.95 364.25,403.52 363.38,405.40 C362.51,407.28 360.62,412.99 360.18,414.60 C359.74,416.21 359.54,418.13 359.58,419.20 C359.62,420.27 360.28,422.73 360.48,423.80 C360.68,424.87 361.19,427.33 361.28,428.40 C361.37,429.47 360.94,431.92 361.28,433.00 C361.62,434.08 363.42,436.62 364.18,437.70 C364.94,438.78 367.79,441.30 367.79,442.30 C367.79,443.30 364.86,445.52 364.18,446.30 C363.50,447.08 362.31,448.56 361.98,449.00 C361.65,449.44 359.67,449.97 361.38,450.10 C363.09,450.23 374.91,450.23 376.62,450.10 C378.33,449.97 376.35,449.44 376.02,449.00 C375.69,448.56 374.50,447.08 373.82,446.30 C373.14,445.52 370.21,443.30 370.21,442.30 C370.21,441.30 373.06,438.78 373.82,437.70 C374.58,436.62 376.38,434.08 376.72,433.00 C377.06,431.92 376.63,429.47 376.72,428.40 C376.81,427.33 377.32,424.87 377.52,423.80 C377.72,422.73 378.38,420.27 378.42,419.20 C378.46,418.13 378.26,416.21 377.82,414.60 C377.38,412.99 375.49,407.28 374.62,405.40 C373.75,403.52 370.96,399.95 370.38,398.50 C369.80,397.05 369.76,393.90 369.65,393.00 C369.53,392.10 369.53,391.06 369.40,390.80 C369.28,390.54 368.72,390.54 368.60,390.80Z" fill="#a49ad4" stroke="#3a2f48" stroke-width="0.65" stroke-linejoin="round"/>
<path d="M390.11,390.80 C389.94,390.92 389.90,391.31 389.63,391.80 C389.36,392.29 388.50,393.95 387.78,395.00 C387.06,396.05 384.19,399.32 383.48,400.80 C382.77,402.28 381.95,406.36 381.68,407.70 C381.41,409.04 381.07,411.23 381.18,412.30 C381.29,413.37 382.04,415.56 382.58,416.90 C383.12,418.24 385.10,422.19 385.78,423.80 C386.46,425.41 387.91,429.22 388.38,430.70 C388.85,432.18 389.59,435.15 389.79,436.50 C389.99,437.85 390.10,440.96 390.11,442.30 C390.13,443.64 390.02,447.17 389.95,448.00 C389.89,448.83 389.60,449.15 389.55,449.40 C389.49,449.64 389.21,450.02 389.47,450.10 C389.72,450.18 391.48,450.18 391.73,450.10 C391.99,450.02 391.71,449.64 391.65,449.40 C391.60,449.15 391.31,448.83 391.25,448.00 C391.18,447.17 391.07,443.64 391.09,442.30 C391.10,440.96 391.21,437.85 391.41,436.50 C391.61,435.15 392.35,432.18 392.82,430.70 C393.29,429.22 394.74,425.41 395.42,423.80 C396.10,422.19 398.08,418.24 398.62,416.90 C399.16,415.56 399.92,413.37 400.02,412.30 C400.13,411.23 399.79,409.04 399.52,407.70 C399.25,406.36 398.43,402.28 397.72,400.80 C397.01,399.32 394.14,396.05 393.42,395.00 C392.70,393.95 391.84,392.29 391.57,391.80 C391.30,391.31 391.26,390.92 391.09,390.80 C390.92,390.68 390.28,390.68 390.11,390.80Z" fill="#7b4594" stroke="#3a2f48" stroke-width="0.65" stroke-linejoin="round"/>
<circle cx="452.5" cy="442.5" r="0.5" fill="#c4c4c4"/>
<circle cx="448.1" cy="420.1" r="0.5" fill="#c4c4c4"/>
<circle cx="446.8" cy="415.8" r="0.5" fill="#c4c4c4"/>
<circle cx="446.9" cy="444.1" r="0.5" fill="#c4c4c4"/>
<circle cx="450.2" cy="446.5" r="0.5" fill="#c4c4c4"/>
<circle cx="440.5" cy="408.2" r="0.5" fill="#c4c4c4"/>
<circle cx="448.5" cy="422.7" r="0.5" fill="#c4c4c4"/>
<circle cx="448.2" cy="431.1" r="0.5" fill="#c4c4c4"/>
<circle cx="452.3" cy="429.3" r="0.5" fill="#c4c4c4"/>
<circle cx="444.8" cy="435.5" r="0.5" fill="#c4c4c4"/>
<circle cx="442.5" cy="397.1" r="0.5" fill="#c4c4c4"/>
<circle cx="448.1" cy="436.5" r="0.5" fill="#c4c4c4"/>
<circle cx="447.8" cy="429.2" r="0.5" fill="#c4c4c4"/>
<circle cx="455.0" cy="411.1" r="0.5" fill="#c4c4c4"/>
<circle cx="448.8" cy="428.7" r="0.5" fill="#c4c4c4"/>
<circle cx="448.9" cy="432.0" r="0.5" fill="#c4c4c4"/>
<circle cx="448.0" cy="422.8" r="0.5" fill="#c4c4c4"/>
<circle cx="447.8" cy="425.9" r="0.5" fill="#c4c4c4"/>
<circle cx="444.9" cy="426.9" r="0.5" fill="#c4c4c4"/>
<circle cx="448.6" cy="395.6" r="0.5" fill="#c4c4c4"/>
<circle cx="445.6" cy="445.8" r="0.5" fill="#c4c4c4"/>
<circle cx="450.7" cy="429.2" r="0.5" fill="#c4c4c4"/>
<circle cx="450.0" cy="407.4" r="0.5" fill="#c4c4c4"/>
<circle cx="444.1" cy="408.1" r="0.5" fill="#c4c4c4"/>
<circle cx="452.4" cy="411.3" r="0.5" fill="#c4c4c4"/>
<circle cx="445.5" cy="396.2" r="0.5" fill="#c4c4c4"/>
<circle cx="441.5" cy="417.3" r="0.5" fill="#c4c4c4"/>
<circle cx="447.0" cy="408.6" r="0.5" fill="#c4c4c4"/>
<circle cx="442.8" cy="407.0" r="0.5" fill="#c4c4c4"/>
<circle cx="439.7" cy="396.8" r="0.5" fill="#c4c4c4"/>
<circle cx="444.9" cy="431.2" r="0.5" fill="#c4c4c4"/>
<circle cx="450.1" cy="405.5" r="0.5" fill="#c4c4c4"/>
<circle cx="448.6" cy="421.8" r="0.5" fill="#c4c4c4"/>
<circle cx="441.2" cy="405.9" r="0.5" fill="#c4c4c4"/>
<circle cx="450.0" cy="438.5" r="0.5" fill="#c4c4c4"/>
<circle cx="446.3" cy="407.2" r="0.5" fill="#c4c4c4"/>
<circle cx="448.0" cy="410.6" r="0.5" fill="#c4c4c4"/>
<circle cx="452.9" cy="445.5" r="0.5" fill="#c4c4c4"/>
<circle cx="444.6" cy="406.8" r="0.5" fill="#c4c4c4"/>
<circle cx="447.0" cy="417.1" r="0.5" fill="#c4c4c4"/>
<circle cx="463.6" cy="405.3" r="0.5" fill="#c4c4c4"/>
<circle cx="460.5" cy="417.7" r="0.5" fill="#c4c4c4"/>
<circle cx="470.4" cy="405.1" r="0.5" fill="#c4c4c4"/>
<circle cx="477.7" cy="400.6" r="0.5" fill="#c4c4c4"/>
<circle cx="471.5" cy="442.9" r="0.5" fill="#c4c4c4"/>
<circle cx="469.4" cy="442.2" r="0.5" fill="#c4c4c4"/>
<circle cx="466.7" cy="444.6" r="0.5" fill="#c4c4c4"/>
<circle cx="455.6" cy="414.5" r="0.5" fill="#c4c4c4"/>
<circle cx="471.5" cy="435.3" r="0.5" fill="#c4c4c4"/>
<circle cx="475.9" cy="399.6" r="0.5" fill="#c4c4c4"/>
<circle cx="466.3" cy="416.7" r="0.5" fill="#c4c4c4"/>
<circle cx="465.1" cy="414.6" r="0.5" fill="#c4c4c4"/>
<circle cx="468.2" cy="412.0" r="0.5" fill="#c4c4c4"/>
<circle cx="468.3" cy="415.6" r="0.5" fill="#c4c4c4"/>
<circle cx="469.9" cy="446.2" r="0.5" fill="#c4c4c4"/>
<circle cx="467.6" cy="408.4" r="0.5" fill="#c4c4c4"/>
<circle cx="463.9" cy="439.1" r="0.5" fill="#c4c4c4"/>
<circle cx="473.4" cy="419.6" r="0.5" fill="#c4c4c4"/>
<circle cx="472.0" cy="416.6" r="0.5" fill="#c4c4c4"/>
<line x1="446.90" y1="391.00" x2="446.90" y2="410.00" stroke="#3a3340" stroke-width="0.9"/>
<path d="M446.65,405.00 C446.53,405.31 446.32,406.58 446.09,407.70 C445.86,408.82 445.15,412.72 444.68,414.60 C444.21,416.48 442.57,421.92 442.08,423.80 C441.59,425.68 440.41,429.35 440.48,430.70 C440.55,432.05 442.04,434.05 442.68,435.40 C443.32,436.75 445.67,441.30 445.93,442.30 C446.18,443.30 445.33,443.53 444.88,444.00 C444.43,444.47 442.76,445.78 442.08,446.30 C441.40,446.82 439.57,448.12 439.08,448.50 C438.59,448.88 438.07,449.41 437.88,449.60 C437.69,449.79 435.33,450.04 437.48,450.10 C439.63,450.16 454.17,450.16 456.32,450.10 C458.47,450.04 456.11,449.79 455.92,449.60 C455.73,449.41 455.21,448.88 454.72,448.50 C454.23,448.12 452.40,446.82 451.72,446.30 C451.04,445.78 449.37,444.47 448.92,444.00 C448.47,443.53 447.62,443.30 447.87,442.30 C448.13,441.30 450.48,436.75 451.12,435.40 C451.76,434.05 453.25,432.05 453.32,430.70 C453.39,429.35 452.21,425.68 451.72,423.80 C451.23,421.92 449.59,416.48 449.12,414.60 C448.65,412.72 447.94,408.82 447.71,407.70 C447.48,406.58 447.27,405.31 447.15,405.00 C447.03,404.69 446.77,404.69 446.65,405.00Z" fill="#a49ad4" stroke="#3a2f48" stroke-width="0.65" stroke-linejoin="round"/>
<path d="M467.61,396.50 C467.44,396.62 467.46,396.74 467.13,397.50 C466.80,398.26 465.39,401.54 464.78,403.00 C464.17,404.46 462.56,408.11 461.88,410.00 C461.20,411.89 459.19,417.05 458.98,419.20 C458.77,421.35 459.54,426.65 460.08,428.40 C460.62,430.15 462.80,432.85 463.58,434.20 C464.36,435.55 466.31,438.99 466.72,440.00 C467.14,441.01 467.30,442.09 467.13,442.90 C466.96,443.70 465.61,446.19 465.28,446.90 C464.95,447.61 464.44,448.63 464.28,449.00 C464.12,449.37 462.94,449.97 463.88,450.10 C464.82,450.23 471.38,450.23 472.32,450.10 C473.26,449.97 472.08,449.37 471.92,449.00 C471.76,448.63 471.25,447.61 470.92,446.90 C470.59,446.19 469.24,443.70 469.07,442.90 C468.90,442.09 469.06,441.01 469.48,440.00 C469.89,438.99 471.84,435.55 472.62,434.20 C473.40,432.85 475.58,430.15 476.12,428.40 C476.66,426.65 477.43,421.35 477.22,419.20 C477.01,417.05 475.00,411.89 474.32,410.00 C473.64,408.11 472.03,404.46 471.42,403.00 C470.81,401.54 469.40,398.26 469.07,397.50 C468.74,396.74 468.76,396.62 468.59,396.50 C468.42,396.38 467.78,396.38 467.61,396.50Z" fill="#7b4594" stroke="#3a2f48" stroke-width="0.65" stroke-linejoin="round"/>
<text transform="translate(78.40 517.50) scale(0.9426 1)" font-size="8.6" fill="#303030" stroke="#303030" stroke-width="0.12">Neutrophils</text>
<line x1="52.40" y1="532.00" x2="52.40" y2="645.50" stroke="#1e1e1e" stroke-width="1.4"/>
<line x1="49.20" y1="644.90" x2="144.80" y2="644.90" stroke="#1e1e1e" stroke-width="1.4"/>
<line x1="49.20" y1="644.90" x2="52.40" y2="644.90" stroke="#1e1e1e" stroke-width="1.0"/>
<text transform="translate(45.90 647.10) scale(1.0850 1)" font-size="6.2" text-anchor="end" fill="#3a3a3a" stroke="#3a3a3a" stroke-width="0.12">0</text>
<line x1="49.20" y1="622.92" x2="52.40" y2="622.92" stroke="#1e1e1e" stroke-width="1.0"/>
<text transform="translate(45.90 625.12) scale(1.0850 1)" font-size="6.2" text-anchor="end" fill="#3a3a3a" stroke="#3a3a3a" stroke-width="0.12">5000</text>
<line x1="49.20" y1="600.94" x2="52.40" y2="600.94" stroke="#1e1e1e" stroke-width="1.0"/>
<text transform="translate(45.90 603.14) scale(1.0850 1)" font-size="6.2" text-anchor="end" fill="#3a3a3a" stroke="#3a3a3a" stroke-width="0.12">10000</text>
<line x1="49.20" y1="578.96" x2="52.40" y2="578.96" stroke="#1e1e1e" stroke-width="1.0"/>
<text transform="translate(45.90 581.16) scale(1.0850 1)" font-size="6.2" text-anchor="end" fill="#3a3a3a" stroke="#3a3a3a" stroke-width="0.12">15000</text>
<line x1="49.20" y1="556.98" x2="52.40" y2="556.98" stroke="#1e1e1e" stroke-width="1.0"/>
<text transform="translate(45.90 559.18) scale(1.0850 1)" font-size="6.2" text-anchor="end" fill="#3a3a3a" stroke="#3a3a3a" stroke-width="0.12">20000</text>
<line x1="49.20" y1="535.00" x2="52.40" y2="535.00" stroke="#1e1e1e" stroke-width="1.0"/>
<text transform="translate(45.90 537.20) scale(1.0850 1)" font-size="6.2" text-anchor="end" fill="#3a3a3a" stroke="#3a3a3a" stroke-width="0.12">25000</text>
<rect x="59.20" y="643.80" width="13.90" height="1.10" fill="#8b82c6"/>
<rect x="77.20" y="643.50" width="13.90" height="1.40" fill="#5c1f74"/>
<rect x="106.50" y="560.20" width="13.50" height="84.70" fill="#8b82c6"/>
<rect x="124.60" y="612.80" width="12.90" height="32.10" fill="#5c1f74"/>
<line x1="66.20" y1="644.90" x2="66.20" y2="647.90" stroke="#1e1e1e" stroke-width="1.0"/>
<line x1="84.30" y1="644.90" x2="84.30" y2="647.90" stroke="#1e1e1e" stroke-width="1.0"/>
<line x1="113.30" y1="644.90" x2="113.30" y2="647.90" stroke="#1e1e1e" stroke-width="1.0"/>
<line x1="131.10" y1="644.90" x2="131.10" y2="647.90" stroke="#1e1e1e" stroke-width="1.0"/>
<text transform="translate(65.70 656.20) scale(1.0591 1)" font-size="6.2" fill="#303030" stroke="#303030" stroke-width="0.12">DMSO</text>
<text transform="translate(115.10 656.20) scale(1.0048 1)" font-size="6.2" fill="#303030" stroke="#303030" stroke-width="0.12">PMA</text>
<text transform="translate(21.00 606.60) rotate(-90) scale(0.6888 1)" font-size="8.4" font-weight="bold" fill="#333">IL-8 (pg/mL)</text>
<rect x="58.50" y="528.50" width="5.30" height="5.50" fill="#8b82c6"/>
<rect x="58.50" y="539.10" width="5.30" height="5.60" fill="#5c1f74"/>
<text transform="translate(68.00 533.60) scale(0.8948 1)" font-size="6.9" fill="#303030" stroke="#303030" stroke-width="0.12">CGD before IFN&#947; in vivo</text>
<text transform="translate(68.00 544.20) scale(0.8940 1)" font-size="6.9" fill="#303030" stroke="#303030" stroke-width="0.12">CGD after IFN&#947; in vivo</text>
<text transform="translate(257.80 517.70) scale(0.9427 1)" font-size="8.6" fill="#303030" stroke="#303030" stroke-width="0.12">Monocytes</text>
<line x1="196.50" y1="534.00" x2="196.50" y2="647.80" stroke="#1e1e1e" stroke-width="1.4"/>
<line x1="193.50" y1="645.00" x2="357.70" y2="645.00" stroke="#1e1e1e" stroke-width="1.4"/>
<line x1="193.30" y1="645.00" x2="196.50" y2="645.00" stroke="#1e1e1e" stroke-width="1.0"/>
<text transform="translate(189.70 647.20) scale(1.0700 1)" font-size="6.2" text-anchor="end" fill="#3a3a3a" stroke="#3a3a3a" stroke-width="0.12">0</text>
<line x1="193.30" y1="608.80" x2="196.50" y2="608.80" stroke="#1e1e1e" stroke-width="1.0"/>
<text transform="translate(189.70 611.00) scale(1.0700 1)" font-size="6.2" text-anchor="end" fill="#3a3a3a" stroke="#3a3a3a" stroke-width="0.12">30</text>
<line x1="193.30" y1="572.60" x2="196.50" y2="572.60" stroke="#1e1e1e" stroke-width="1.0"/>
<text transform="translate(189.70 574.80) scale(1.0700 1)" font-size="6.2" text-anchor="end" fill="#3a3a3a" stroke="#3a3a3a" stroke-width="0.12">60</text>
<line x1="193.30" y1="536.40" x2="196.50" y2="536.40" stroke="#1e1e1e" stroke-width="1.0"/>
<text transform="translate(189.70 538.60) scale(1.0700 1)" font-size="6.2" text-anchor="end" fill="#3a3a3a" stroke="#3a3a3a" stroke-width="0.12">90</text>
<line x1="195.00" y1="626.90" x2="196.50" y2="626.90" stroke="#1e1e1e" stroke-width="0.9"/>
<line x1="195.00" y1="590.70" x2="196.50" y2="590.70" stroke="#1e1e1e" stroke-width="0.9"/>
<line x1="195.00" y1="554.50" x2="196.50" y2="554.50" stroke="#1e1e1e" stroke-width="0.9"/>
<line x1="196.30" y1="645.00" x2="196.30" y2="647.90" stroke="#1e1e1e" stroke-width="1.0"/>
<text transform="translate(196.30 657.40) scale(1.1200 1)" font-size="6.1" text-anchor="middle" fill="#3a3a3a" stroke="#3a3a3a" stroke-width="0.12">0</text>
<line x1="211.78" y1="645.00" x2="211.78" y2="647.90" stroke="#1e1e1e" stroke-width="1.0"/>
<text transform="translate(211.78 657.40) scale(1.1200 1)" font-size="6.1" text-anchor="middle" fill="#3a3a3a" stroke="#3a3a3a" stroke-width="0.12">10</text>
<line x1="227.26" y1="645.00" x2="227.26" y2="647.90" stroke="#1e1e1e" stroke-width="1.0"/>
<text transform="translate(227.26 657.40) scale(1.1200 1)" font-size="6.1" text-anchor="middle" fill="#3a3a3a" stroke="#3a3a3a" stroke-width="0.12">20</text>
<line x1="242.74" y1="645.00" x2="242.74" y2="647.90" stroke="#1e1e1e" stroke-width="1.0"/>
<text transform="translate(242.74 657.40) scale(1.1200 1)" font-size="6.1" text-anchor="middle" fill="#3a3a3a" stroke="#3a3a3a" stroke-width="0.12">30</text>
<line x1="258.22" y1="645.00" x2="258.22" y2="647.90" stroke="#1e1e1e" stroke-width="1.0"/>
<text transform="translate(258.22 657.40) scale(1.1200 1)" font-size="6.1" text-anchor="middle" fill="#3a3a3a" stroke="#3a3a3a" stroke-width="0.12">40</text>
<line x1="273.70" y1="645.00" x2="273.70" y2="647.90" stroke="#1e1e1e" stroke-width="1.0"/>
<text transform="translate(273.70 657.40) scale(1.1200 1)" font-size="6.1" text-anchor="middle" fill="#3a3a3a" stroke="#3a3a3a" stroke-width="0.12">50</text>
<line x1="289.18" y1="645.00" x2="289.18" y2="647.90" stroke="#1e1e1e" stroke-width="1.0"/>
<text transform="translate(289.18 657.40) scale(1.1200 1)" font-size="6.1" text-anchor="middle" fill="#3a3a3a" stroke="#3a3a3a" stroke-width="0.12">60</text>
<line x1="304.66" y1="645.00" x2="304.66" y2="647.90" stroke="#1e1e1e" stroke-width="1.0"/>
<text transform="translate(304.66 657.40) scale(1.1200 1)" font-size="6.1" text-anchor="middle" fill="#3a3a3a" stroke="#3a3a3a" stroke-width="0.12">70</text>
<line x1="320.14" y1="645.00" x2="320.14" y2="647.90" stroke="#1e1e1e" stroke-width="1.0"/>
<text transform="translate(320.14 657.40) scale(1.1200 1)" font-size="6.1" text-anchor="middle" fill="#3a3a3a" stroke="#3a3a3a" stroke-width="0.12">80</text>
<line x1="335.62" y1="645.00" x2="335.62" y2="647.90" stroke="#1e1e1e" stroke-width="1.0"/>
<text transform="translate(335.62 657.40) scale(1.1200 1)" font-size="6.1" text-anchor="middle" fill="#3a3a3a" stroke="#3a3a3a" stroke-width="0.12">90</text>
<line x1="351.10" y1="645.00" x2="351.10" y2="647.90" stroke="#1e1e1e" stroke-width="1.0"/>
<text transform="translate(351.10 657.40) scale(1.1200 1)" font-size="6.1" text-anchor="middle" fill="#3a3a3a" stroke="#3a3a3a" stroke-width="0.12">100</text>
<text transform="translate(253.70 669.70) scale(0.6837 1)" font-size="8.0" font-weight="bold" fill="#333">Time (minutes)</text>
<text transform="translate(177.00 612.20) rotate(-90) scale(0.6742 1)" font-size="8.4" font-weight="bold" fill="#333">OCR (pmol/min)</text>
<line x1="198.00" y1="571.80" x2="198.00" y2="586.80" stroke="#c09ac8" stroke-width="0.6"/>
<line x1="196.90" y1="571.80" x2="199.10" y2="571.80" stroke="#c09ac8" stroke-width="0.6"/>
<line x1="196.90" y1="586.80" x2="199.10" y2="586.80" stroke="#c09ac8" stroke-width="0.6"/>
<line x1="208.60" y1="575.70" x2="208.60" y2="588.70" stroke="#c09ac8" stroke-width="0.6"/>
<line x1="207.50" y1="575.70" x2="209.70" y2="575.70" stroke="#c09ac8" stroke-width="0.6"/>
<line x1="207.50" y1="588.70" x2="209.70" y2="588.70" stroke="#c09ac8" stroke-width="0.6"/>
<line x1="218.50" y1="577.70" x2="218.50" y2="589.70" stroke="#c09ac8" stroke-width="0.6"/>
<line x1="217.40" y1="577.70" x2="219.60" y2="577.70" stroke="#c09ac8" stroke-width="0.6"/>
<line x1="217.40" y1="589.70" x2="219.60" y2="589.70" stroke="#c09ac8" stroke-width="0.6"/>
<line x1="228.70" y1="578.80" x2="228.70" y2="590.80" stroke="#c09ac8" stroke-width="0.6"/>
<line x1="227.60" y1="578.80" x2="229.80" y2="578.80" stroke="#c09ac8" stroke-width="0.6"/>
<line x1="227.60" y1="590.80" x2="229.80" y2="590.80" stroke="#c09ac8" stroke-width="0.6"/>
<line x1="239.20" y1="608.20" x2="239.20" y2="614.20" stroke="#c09ac8" stroke-width="0.6"/>
<line x1="238.10" y1="608.20" x2="240.30" y2="608.20" stroke="#c09ac8" stroke-width="0.6"/>
<line x1="238.10" y1="614.20" x2="240.30" y2="614.20" stroke="#c09ac8" stroke-width="0.6"/>
<line x1="249.40" y1="608.60" x2="249.40" y2="614.60" stroke="#c09ac8" stroke-width="0.6"/>
<line x1="248.30" y1="608.60" x2="250.50" y2="608.60" stroke="#c09ac8" stroke-width="0.6"/>
<line x1="248.30" y1="614.60" x2="250.50" y2="614.60" stroke="#c09ac8" stroke-width="0.6"/>
<line x1="259.30" y1="611.50" x2="259.30" y2="616.50" stroke="#c09ac8" stroke-width="0.6"/>
<line x1="258.20" y1="611.50" x2="260.40" y2="611.50" stroke="#c09ac8" stroke-width="0.6"/>
<line x1="258.20" y1="616.50" x2="260.40" y2="616.50" stroke="#c09ac8" stroke-width="0.6"/>
<line x1="269.90" y1="612.10" x2="269.90" y2="617.10" stroke="#c09ac8" stroke-width="0.6"/>
<line x1="268.80" y1="612.10" x2="271.00" y2="612.10" stroke="#c09ac8" stroke-width="0.6"/>
<line x1="268.80" y1="617.10" x2="271.00" y2="617.10" stroke="#c09ac8" stroke-width="0.6"/>
<line x1="279.90" y1="613.80" x2="279.90" y2="617.80" stroke="#c09ac8" stroke-width="0.6"/>
<line x1="278.80" y1="613.80" x2="281.00" y2="613.80" stroke="#c09ac8" stroke-width="0.6"/>
<line x1="278.80" y1="617.80" x2="281.00" y2="617.80" stroke="#c09ac8" stroke-width="0.6"/>
<line x1="290.20" y1="573.00" x2="290.20" y2="579.00" stroke="#c09ac8" stroke-width="0.6"/>
<line x1="289.10" y1="573.00" x2="291.30" y2="573.00" stroke="#c09ac8" stroke-width="0.6"/>
<line x1="289.10" y1="579.00" x2="291.30" y2="579.00" stroke="#c09ac8" stroke-width="0.6"/>
<line x1="300.70" y1="574.60" x2="300.70" y2="580.60" stroke="#c09ac8" stroke-width="0.6"/>
<line x1="299.60" y1="574.60" x2="301.80" y2="574.60" stroke="#c09ac8" stroke-width="0.6"/>
<line x1="299.60" y1="580.60" x2="301.80" y2="580.60" stroke="#c09ac8" stroke-width="0.6"/>
<line x1="310.60" y1="575.70" x2="310.60" y2="581.70" stroke="#c09ac8" stroke-width="0.6"/>
<line x1="309.50" y1="575.70" x2="311.70" y2="575.70" stroke="#c09ac8" stroke-width="0.6"/>
<line x1="309.50" y1="581.70" x2="311.70" y2="581.70" stroke="#c09ac8" stroke-width="0.6"/>
<line x1="320.90" y1="623.20" x2="320.90" y2="626.20" stroke="#c09ac8" stroke-width="0.6"/>
<line x1="319.80" y1="623.20" x2="322.00" y2="623.20" stroke="#c09ac8" stroke-width="0.6"/>
<line x1="319.80" y1="626.20" x2="322.00" y2="626.20" stroke="#c09ac8" stroke-width="0.6"/>
<line x1="331.40" y1="624.30" x2="331.40" y2="627.30" stroke="#c09ac8" stroke-width="0.6"/>
<line x1="330.30" y1="624.30" x2="332.50" y2="624.30" stroke="#c09ac8" stroke-width="0.6"/>
<line x1="330.30" y1="627.30" x2="332.50" y2="627.30" stroke="#c09ac8" stroke-width="0.6"/>
<line x1="341.30" y1="625.00" x2="341.30" y2="628.00" stroke="#c09ac8" stroke-width="0.6"/>
<line x1="340.20" y1="625.00" x2="342.40" y2="625.00" stroke="#c09ac8" stroke-width="0.6"/>
<line x1="340.20" y1="628.00" x2="342.40" y2="628.00" stroke="#c09ac8" stroke-width="0.6"/>
<line x1="351.60" y1="624.70" x2="351.60" y2="627.70" stroke="#c09ac8" stroke-width="0.6"/>
<line x1="350.50" y1="624.70" x2="352.70" y2="624.70" stroke="#c09ac8" stroke-width="0.6"/>
<line x1="350.50" y1="627.70" x2="352.70" y2="627.70" stroke="#c09ac8" stroke-width="0.6"/>
<line x1="198.00" y1="601.40" x2="198.00" y2="605.40" stroke="#b8b0e0" stroke-width="0.6"/>
<line x1="196.90" y1="601.40" x2="199.10" y2="601.40" stroke="#b8b0e0" stroke-width="0.6"/>
<line x1="196.90" y1="605.40" x2="199.10" y2="605.40" stroke="#b8b0e0" stroke-width="0.6"/>
<line x1="208.60" y1="603.30" x2="208.60" y2="606.30" stroke="#b8b0e0" stroke-width="0.6"/>
<line x1="207.50" y1="603.30" x2="209.70" y2="603.30" stroke="#b8b0e0" stroke-width="0.6"/>
<line x1="207.50" y1="606.30" x2="209.70" y2="606.30" stroke="#b8b0e0" stroke-width="0.6"/>
<line x1="218.50" y1="603.50" x2="218.50" y2="606.50" stroke="#b8b0e0" stroke-width="0.6"/>
<line x1="217.40" y1="603.50" x2="219.60" y2="603.50" stroke="#b8b0e0" stroke-width="0.6"/>
<line x1="217.40" y1="606.50" x2="219.60" y2="606.50" stroke="#b8b0e0" stroke-width="0.6"/>
<line x1="228.70" y1="603.10" x2="228.70" y2="606.10" stroke="#b8b0e0" stroke-width="0.6"/>
<line x1="227.60" y1="603.10" x2="229.80" y2="603.10" stroke="#b8b0e0" stroke-width="0.6"/>
<line x1="227.60" y1="606.10" x2="229.80" y2="606.10" stroke="#b8b0e0" stroke-width="0.6"/>
<line x1="239.20" y1="626.30" x2="239.20" y2="628.30" stroke="#b8b0e0" stroke-width="0.6"/>
<line x1="238.10" y1="626.30" x2="240.30" y2="626.30" stroke="#b8b0e0" stroke-width="0.6"/>
<line x1="238.10" y1="628.30" x2="240.30" y2="628.30" stroke="#b8b0e0" stroke-width="0.6"/>
<line x1="249.40" y1="626.50" x2="249.40" y2="628.50" stroke="#b8b0e0" stroke-width="0.6"/>
<line x1="248.30" y1="626.50" x2="250.50" y2="626.50" stroke="#b8b0e0" stroke-width="0.6"/>
<line x1="248.30" y1="628.50" x2="250.50" y2="628.50" stroke="#b8b0e0" stroke-width="0.6"/>
<line x1="259.30" y1="627.30" x2="259.30" y2="629.30" stroke="#b8b0e0" stroke-width="0.6"/>
<line x1="258.20" y1="627.30" x2="260.40" y2="627.30" stroke="#b8b0e0" stroke-width="0.6"/>
<line x1="258.20" y1="629.30" x2="260.40" y2="629.30" stroke="#b8b0e0" stroke-width="0.6"/>
<line x1="269.90" y1="627.30" x2="269.90" y2="629.30" stroke="#b8b0e0" stroke-width="0.6"/>
<line x1="268.80" y1="627.30" x2="271.00" y2="627.30" stroke="#b8b0e0" stroke-width="0.6"/>
<line x1="268.80" y1="629.30" x2="271.00" y2="629.30" stroke="#b8b0e0" stroke-width="0.6"/>
<line x1="279.90" y1="627.80" x2="279.90" y2="629.80" stroke="#b8b0e0" stroke-width="0.6"/>
<line x1="278.80" y1="627.80" x2="281.00" y2="627.80" stroke="#b8b0e0" stroke-width="0.6"/>
<line x1="278.80" y1="629.80" x2="281.00" y2="629.80" stroke="#b8b0e0" stroke-width="0.6"/>
<line x1="290.20" y1="591.90" x2="290.20" y2="598.90" stroke="#b8b0e0" stroke-width="0.6"/>
<line x1="289.10" y1="591.90" x2="291.30" y2="591.90" stroke="#b8b0e0" stroke-width="0.6"/>
<line x1="289.10" y1="598.90" x2="291.30" y2="598.90" stroke="#b8b0e0" stroke-width="0.6"/>
<line x1="300.70" y1="596.10" x2="300.70" y2="602.10" stroke="#b8b0e0" stroke-width="0.6"/>
<line x1="299.60" y1="596.10" x2="301.80" y2="596.10" stroke="#b8b0e0" stroke-width="0.6"/>
<line x1="299.60" y1="602.10" x2="301.80" y2="602.10" stroke="#b8b0e0" stroke-width="0.6"/>
<line x1="310.60" y1="596.10" x2="310.60" y2="602.10" stroke="#b8b0e0" stroke-width="0.6"/>
<line x1="309.50" y1="596.10" x2="311.70" y2="596.10" stroke="#b8b0e0" stroke-width="0.6"/>
<line x1="309.50" y1="602.10" x2="311.70" y2="602.10" stroke="#b8b0e0" stroke-width="0.6"/>
<line x1="320.90" y1="631.00" x2="320.90" y2="633.00" stroke="#b8b0e0" stroke-width="0.6"/>
<line x1="319.80" y1="631.00" x2="322.00" y2="631.00" stroke="#b8b0e0" stroke-width="0.6"/>
<line x1="319.80" y1="633.00" x2="322.00" y2="633.00" stroke="#b8b0e0" stroke-width="0.6"/>
<line x1="331.40" y1="631.60" x2="331.40" y2="633.60" stroke="#b8b0e0" stroke-width="0.6"/>
<line x1="330.30" y1="631.60" x2="332.50" y2="631.60" stroke="#b8b0e0" stroke-width="0.6"/>
<line x1="330.30" y1="633.60" x2="332.50" y2="633.60" stroke="#b8b0e0" stroke-width="0.6"/>
<line x1="341.30" y1="632.00" x2="341.30" y2="634.00" stroke="#b8b0e0" stroke-width="0.6"/>
<line x1="340.20" y1="632.00" x2="342.40" y2="632.00" stroke="#b8b0e0" stroke-width="0.6"/>
<line x1="340.20" y1="634.00" x2="342.40" y2="634.00" stroke="#b8b0e0" stroke-width="0.6"/>
<line x1="351.60" y1="632.00" x2="351.60" y2="634.00" stroke="#b8b0e0" stroke-width="0.6"/>
<line x1="350.50" y1="632.00" x2="352.70" y2="632.00" stroke="#b8b0e0" stroke-width="0.6"/>
<line x1="350.50" y1="634.00" x2="352.70" y2="634.00" stroke="#b8b0e0" stroke-width="0.6"/>
<polyline points="198.0,603.4 208.6,604.8 218.5,605.0 228.7,604.6 239.2,627.3 249.4,627.5 259.3,628.3 269.9,628.3 279.9,628.8 290.2,595.4 300.7,599.1 310.6,599.1 320.9,632.0 331.4,632.6 341.3,633.0 351.6,633.0" fill="none" stroke="#9a92cc" stroke-width="0.9"/>
<polyline points="198.0,579.3 208.6,582.2 218.5,583.7 228.7,584.8 239.2,611.2 249.4,611.6 259.3,614.0 269.9,614.6 279.9,615.8 290.2,576.0 300.7,577.6 310.6,578.7 320.9,624.7 331.4,625.8 341.3,626.5 351.6,626.2" fill="none" stroke="#4a2a5c" stroke-width="0.9"/>
<circle cx="198.0" cy="603.4" r="1.8" fill="#8c82c4"/>
<circle cx="208.6" cy="604.8" r="1.8" fill="#8c82c4"/>
<circle cx="218.5" cy="605.0" r="1.8" fill="#8c82c4"/>
<circle cx="228.7" cy="604.6" r="1.8" fill="#8c82c4"/>
<circle cx="239.2" cy="627.3" r="1.8" fill="#8c82c4"/>
<circle cx="249.4" cy="627.5" r="1.8" fill="#8c82c4"/>
<circle cx="259.3" cy="628.3" r="1.8" fill="#8c82c4"/>
<circle cx="269.9" cy="628.3" r="1.8" fill="#8c82c4"/>
<circle cx="279.9" cy="628.8" r="1.8" fill="#8c82c4"/>
<circle cx="290.2" cy="595.4" r="1.8" fill="#8c82c4"/>
<circle cx="300.7" cy="599.1" r="1.8" fill="#8c82c4"/>
<circle cx="310.6" cy="599.1" r="1.8" fill="#8c82c4"/>
<circle cx="320.9" cy="632.0" r="1.8" fill="#8c82c4"/>
<circle cx="331.4" cy="632.6" r="1.8" fill="#8c82c4"/>
<circle cx="341.3" cy="633.0" r="1.8" fill="#8c82c4"/>
<circle cx="351.6" cy="633.0" r="1.8" fill="#8c82c4"/>
<circle cx="198.0" cy="579.3" r="1.8" fill="#3b1a4c"/>
<circle cx="208.6" cy="582.2" r="1.8" fill="#3b1a4c"/>
<circle cx="218.5" cy="583.7" r="1.8" fill="#3b1a4c"/>
<circle cx="228.7" cy="584.8" r="1.8" fill="#3b1a4c"/>
<circle cx="239.2" cy="611.2" r="1.8" fill="#3b1a4c"/>
<circle cx="249.4" cy="611.6" r="1.8" fill="#3b1a4c"/>
<circle cx="259.3" cy="614.0" r="1.8" fill="#3b1a4c"/>
<circle cx="269.9" cy="614.6" r="1.8" fill="#3b1a4c"/>
<circle cx="279.9" cy="615.8" r="1.8" fill="#3b1a4c"/>
<circle cx="290.2" cy="576.0" r="1.8" fill="#3b1a4c"/>
<circle cx="300.7" cy="577.6" r="1.8" fill="#3b1a4c"/>
<circle cx="310.6" cy="578.7" r="1.8" fill="#3b1a4c"/>
<circle cx="320.9" cy="624.7" r="1.8" fill="#3b1a4c"/>
<circle cx="331.4" cy="625.8" r="1.8" fill="#3b1a4c"/>
<circle cx="341.3" cy="626.5" r="1.8" fill="#3b1a4c"/>
<circle cx="351.6" cy="626.2" r="1.8" fill="#3b1a4c"/>
<line x1="202.30" y1="531.20" x2="216.70" y2="531.20" stroke="#9a92cc" stroke-width="0.9"/>
<circle cx="210.0" cy="531.4" r="2.1" fill="#8c82c4"/>
<line x1="202.30" y1="541.70" x2="216.70" y2="541.70" stroke="#4a2a5c" stroke-width="0.9"/>
<circle cx="210.0" cy="541.7" r="2.1" fill="#3b1a4c"/>
<text transform="translate(221.10 533.50) scale(0.9108 1)" font-size="6.9" fill="#303030" stroke="#303030" stroke-width="0.12">CGD before IFN&#947; <tspan font-style="italic">in vivo</tspan></text>
<text transform="translate(221.10 543.80) scale(0.9100 1)" font-size="6.9" fill="#303030" stroke="#303030" stroke-width="0.12">CGD after IFN&#947; <tspan font-style="italic">in vivo</tspan></text>
<line x1="234.50" y1="572.00" x2="234.50" y2="586.60" stroke="#262626" stroke-width="0.9"/>
<path d="M232.60,585.60 L234.50,589.60 L236.40,585.60Z" fill="#262626"/>
<line x1="284.30" y1="564.00" x2="284.30" y2="578.60" stroke="#262626" stroke-width="0.9"/>
<path d="M282.40,577.60 L284.30,581.60 L286.20,577.60Z" fill="#262626"/>
<line x1="317.10" y1="565.00" x2="317.10" y2="579.60" stroke="#262626" stroke-width="0.9"/>
<path d="M315.20,578.60 L317.10,582.60 L319.00,578.60Z" fill="#262626"/>
<text transform="translate(218.70 567.80) scale(0.8677 1)" font-size="7.2" fill="#303030" stroke="#303030" stroke-width="0.12">Oligomycin</text>
<text transform="translate(276.10 559.00) scale(0.8980 1)" font-size="7.2" fill="#303030" stroke="#303030" stroke-width="0.12">FCCP</text>
<text transform="translate(301.50 553.20) scale(0.8472 1)" font-size="7.2" fill="#303030" stroke="#303030" stroke-width="0.12">Antimycin &amp;</text>
<text transform="translate(304.00 560.00) scale(0.8422 1)" font-size="7.2" fill="#303030" stroke="#303030" stroke-width="0.12">Rotenone</text>
<text transform="translate(445.10 512.10) scale(0.9692 1)" font-size="8.6" fill="#303030" stroke="#303030" stroke-width="0.12">Monocytes</text>
<text transform="translate(426.10 522.10) scale(0.9713 1)" font-size="8.6" fill="#303030" stroke="#303030" stroke-width="0.12">in vitro BCG-training</text>
<line x1="416.90" y1="531.00" x2="416.90" y2="645.50" stroke="#1e1e1e" stroke-width="1.5"/>
<line x1="414.10" y1="644.80" x2="511.00" y2="644.80" stroke="#1e1e1e" stroke-width="1.4"/>
<line x1="413.60" y1="644.90" x2="416.90" y2="644.90" stroke="#1e1e1e" stroke-width="1.0"/>
<text transform="translate(410.80 647.10) scale(1.0600 1)" font-size="6.2" text-anchor="end" fill="#3a3a3a" stroke="#3a3a3a" stroke-width="0.12">0</text>
<line x1="413.60" y1="617.18" x2="416.90" y2="617.18" stroke="#1e1e1e" stroke-width="1.0"/>
<text transform="translate(410.80 619.38) scale(1.0600 1)" font-size="6.2" text-anchor="end" fill="#3a3a3a" stroke="#3a3a3a" stroke-width="0.12">1000</text>
<line x1="413.60" y1="589.46" x2="416.90" y2="589.46" stroke="#1e1e1e" stroke-width="1.0"/>
<text transform="translate(410.80 591.66) scale(1.0600 1)" font-size="6.2" text-anchor="end" fill="#3a3a3a" stroke="#3a3a3a" stroke-width="0.12">2000</text>
<line x1="413.60" y1="561.74" x2="416.90" y2="561.74" stroke="#1e1e1e" stroke-width="1.0"/>
<text transform="translate(410.80 563.94) scale(1.0600 1)" font-size="6.2" text-anchor="end" fill="#3a3a3a" stroke="#3a3a3a" stroke-width="0.12">3000</text>
<line x1="413.60" y1="534.02" x2="416.90" y2="534.02" stroke="#1e1e1e" stroke-width="1.0"/>
<text transform="translate(410.80 536.22) scale(1.0600 1)" font-size="6.2" text-anchor="end" fill="#3a3a3a" stroke="#3a3a3a" stroke-width="0.12">4000</text>
<line x1="415.00" y1="631.04" x2="416.90" y2="631.04" stroke="#1e1e1e" stroke-width="0.9"/>
<line x1="415.00" y1="603.32" x2="416.90" y2="603.32" stroke="#1e1e1e" stroke-width="0.9"/>
<line x1="415.00" y1="575.60" x2="416.90" y2="575.60" stroke="#1e1e1e" stroke-width="0.9"/>
<line x1="415.00" y1="547.88" x2="416.90" y2="547.88" stroke="#1e1e1e" stroke-width="0.9"/>
<rect x="424.60" y="641.90" width="14.20" height="3.00" fill="#8b82c6"/>
<rect x="443.00" y="623.70" width="13.90" height="21.20" fill="#5c1f74"/>
<rect x="473.40" y="622.00" width="13.50" height="22.90" fill="#8b82c6"/>
<rect x="491.40" y="558.60" width="14.30" height="86.30" fill="#5c1f74"/>
<line x1="431.50" y1="644.80" x2="431.50" y2="647.90" stroke="#1e1e1e" stroke-width="1.0"/>
<line x1="450.00" y1="644.80" x2="450.00" y2="647.90" stroke="#1e1e1e" stroke-width="1.0"/>
<line x1="480.20" y1="644.80" x2="480.20" y2="647.90" stroke="#1e1e1e" stroke-width="1.0"/>
<line x1="498.50" y1="644.80" x2="498.50" y2="647.90" stroke="#1e1e1e" stroke-width="1.0"/>
<text transform="translate(433.00 656.20) scale(1.0452 1)" font-size="6.2" fill="#303030" stroke="#303030" stroke-width="0.12">RPMI</text>
<text transform="translate(481.50 656.20) scale(1.1016 1)" font-size="6.2" fill="#303030" stroke="#303030" stroke-width="0.12">BCG</text>
<text transform="translate(389.60 607.50) rotate(-90) scale(0.7117 1)" font-size="8.4" font-weight="bold" fill="#333">IL-6 (pg/mL)</text>
<rect x="423.40" y="534.90" width="5.40" height="5.40" fill="#8b82c6"/>
<rect x="423.40" y="544.90" width="5.40" height="5.40" fill="#5c1f74"/>
<text transform="translate(432.50 539.60) scale(0.9202 1)" font-size="6.9" fill="#303030" stroke="#303030" stroke-width="0.12">CGD before IFN&#947; <tspan font-style="italic">in vivo</tspan></text>
<text transform="translate(432.50 549.50) scale(0.9100 1)" font-size="6.9" fill="#303030" stroke="#303030" stroke-width="0.12">CGD after IFN&#947; <tspan font-style="italic">in vivo</tspan></text>
</svg>
<div style="position:absolute;left:0;top:0;width:520px;height:1px;background:#5c5c5c"></div>
<div style="position:absolute;left:0;top:0;width:1px;height:679px;background:#5a5a5a"></div>
<div style="position:absolute;left:519px;top:0;width:1px;height:679px;background:#5a5a5a"></div>
<div style="position:absolute;left:0;top:677px;width:520px;height:1px;background:#b4b4b4"></div>
<div style="position:absolute;left:0;top:678px;width:520px;height:1px;background:#555"></div>
</div></body></html>
